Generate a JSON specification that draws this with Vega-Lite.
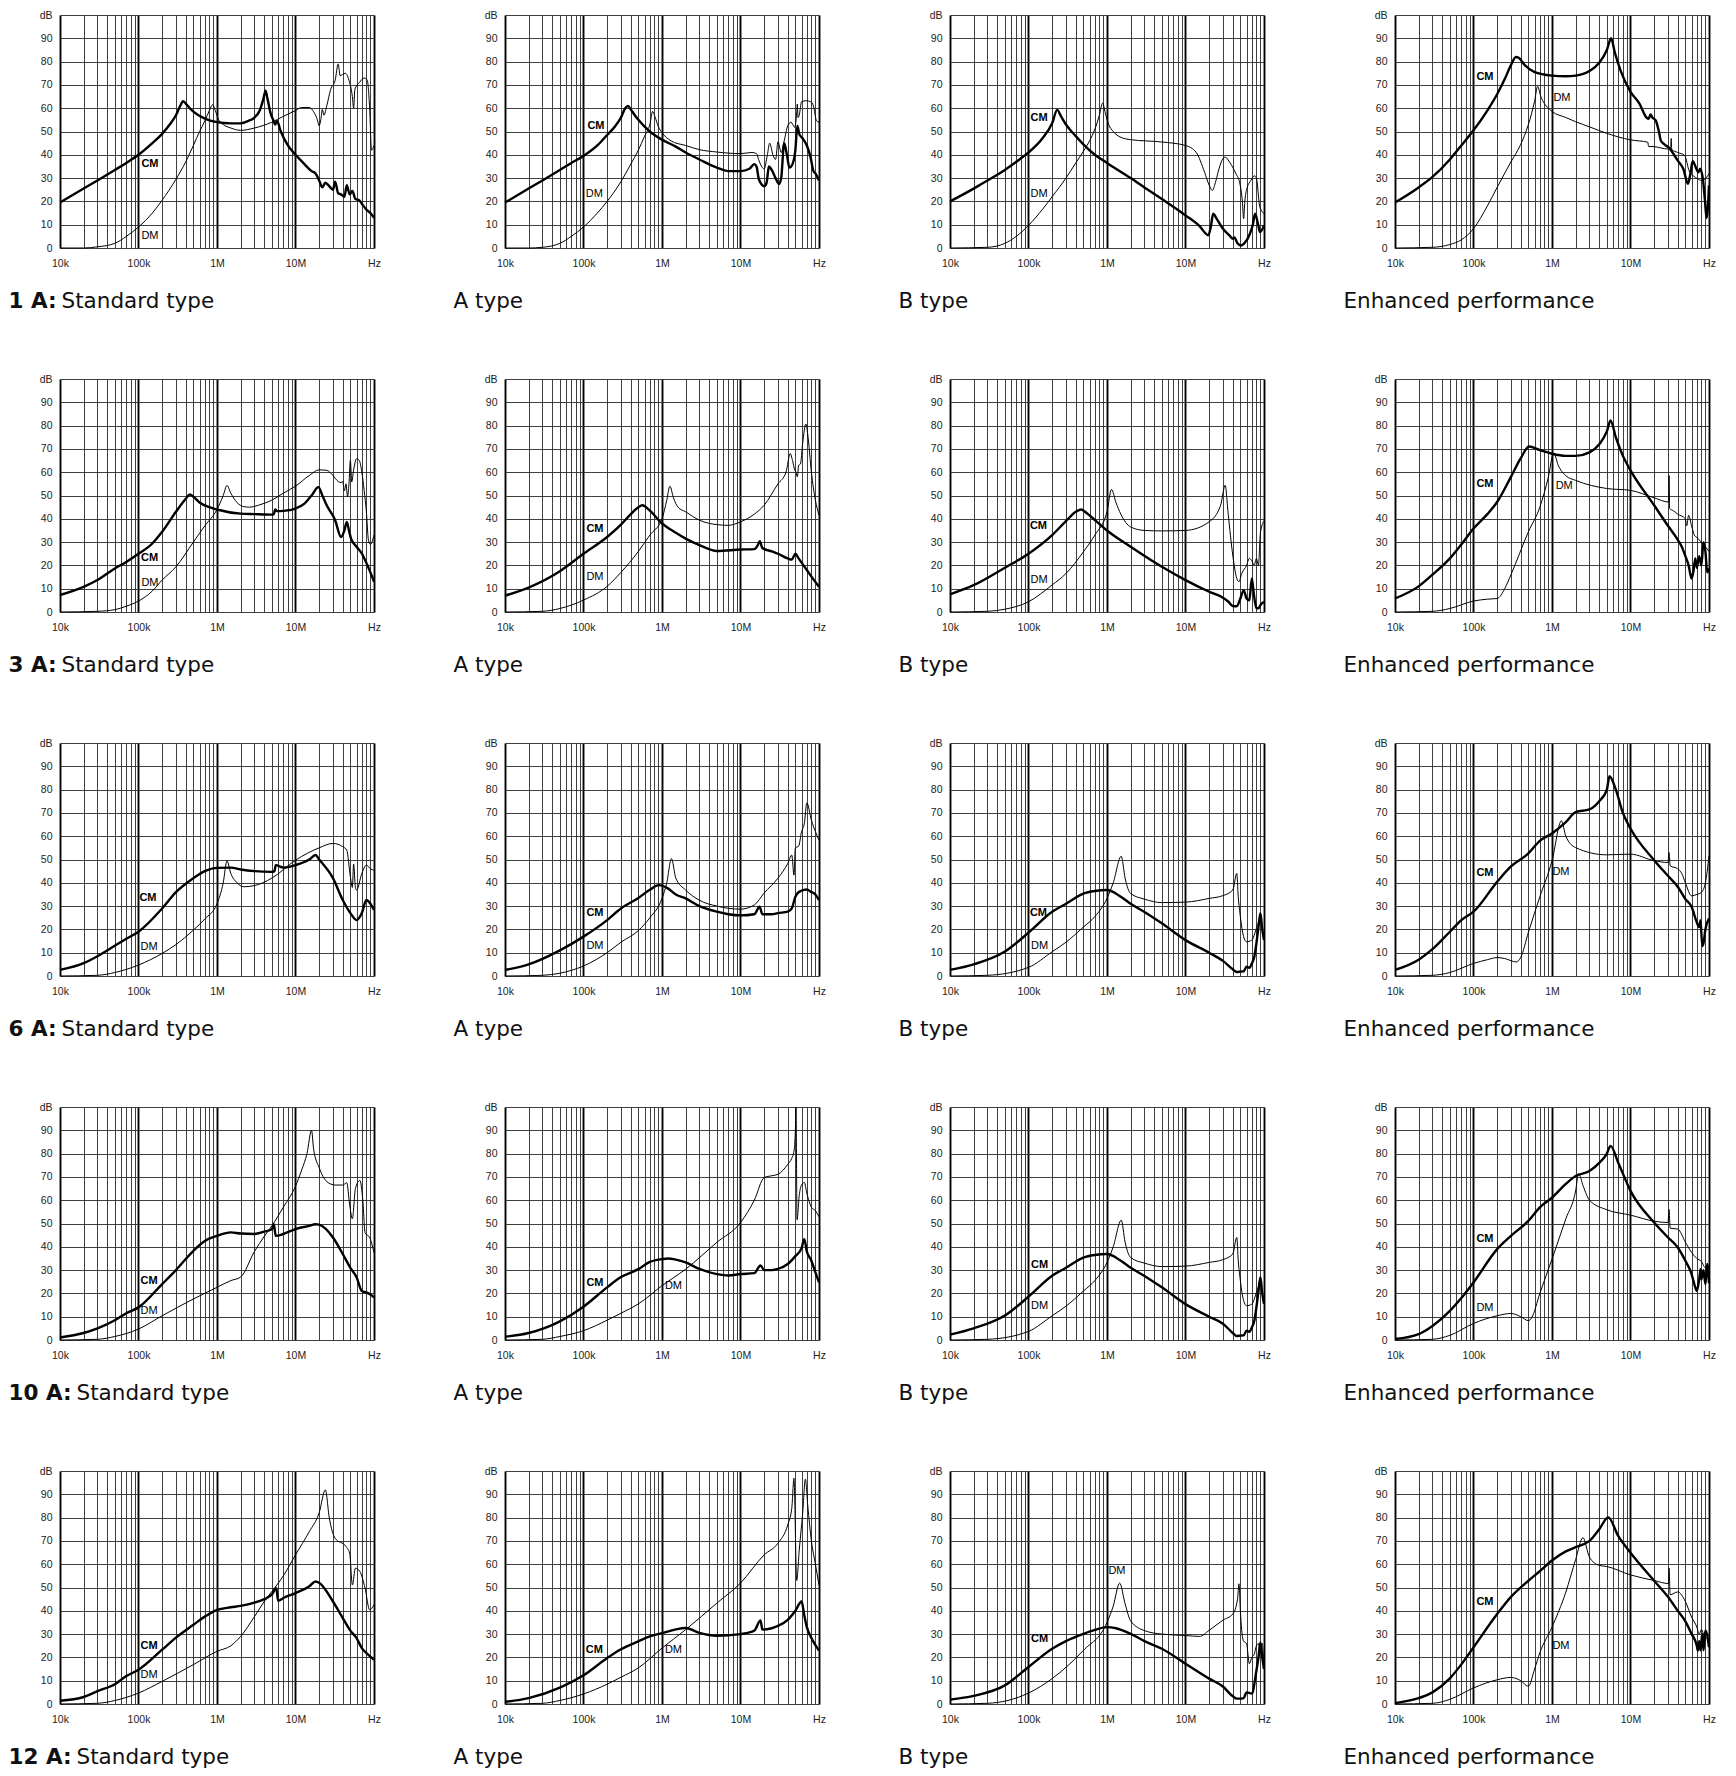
{
"$schema":"https://vega.github.io/schema/vega-lite/v6.json",
"background":"white",
"padding":{"left":8,"top":10,"right":5,"bottom":5},
"columns":4,"spacing":131,"bounds":"flush",
"config":{
 "view":{"stroke":null},
 "axis":{"ticks":false,"domain":false,"labelFont":"Liberation Sans","labelFontSize":10.5,"labelColor":"#222","labelFlush":false,"labelOverlap":false,"labelBound":false,"titleFont":"DejaVu Sans","titleFontSize":21.5,"titleFontWeight":"normal","titleColor":"#111","titleAlign":"left","titleBaseline":"alphabetic","titlePadding":0},
 "axisX":{"labelPadding":10,"labelAlign":"center"},
 "axisY":{"labelPadding":8,"gridColor":"#2a2a2a","gridWidth":0.9,"titleAngle":0},
 "line":{"color":"#000","strokeJoin":"round","clip":true,"interpolate":"monotone"},
 "text":{"font":"Liberation Sans","fontSize":11,"color":"#000"}
},
"datasets":{
"p1":[{"s":"C","f":1e4,"d":19.5},{"s":"C","f":2e4,"d":25.5},{"s":"C","f":3e4,"d":29},{"s":"C","f":5e4,"d":33.5},{"s":"C","f":7e4,"d":36.5},{"s":"C","f":1e5,"d":40},{"s":"C","f":1.5e5,"d":45},{"s":"C","f":2e5,"d":49},{"s":"C","f":2.5e5,"d":53},{"s":"C","f":3e5,"d":57},{"s":"C","f":3.4e5,"d":61},{"s":"C","f":3.7e5,"d":63},{"s":"C","f":4e5,"d":62},{"s":"C","f":4.5e5,"d":60},{"s":"C","f":5e5,"d":58.5},{"s":"C","f":7e5,"d":55.5},{"s":"C","f":1e6,"d":54},{"s":"C","f":1.5e6,"d":53.5},{"s":"C","f":2e6,"d":53.5},{"s":"C","f":2.5e6,"d":54.5},{"s":"C","f":3e6,"d":56},{"s":"C","f":3.5e6,"d":59},{"s":"C","f":3.9e6,"d":64},{"s":"C","f":4.15e6,"d":67.5},{"s":"C","f":4.4e6,"d":64},{"s":"C","f":4.8e6,"d":58},{"s":"C","f":5.2e6,"d":55},{"s":"C","f":5.5e6,"d":53},{"s":"C","f":5.8e6,"d":54.5},{"s":"C","f":6.5e6,"d":50},{"s":"C","f":8e6,"d":44},{"s":"C","f":1e7,"d":40},{"s":"C","f":1.3e7,"d":36},{"s":"C","f":1.6e7,"d":33},{"s":"C","f":1.8e7,"d":32},{"s":"C","f":2e7,"d":29},{"s":"C","f":2.2e7,"d":26},{"s":"C","f":2.4e7,"d":28},{"s":"C","f":2.7e7,"d":26.5},{"s":"C","f":3e7,"d":25},{"s":"C","f":3.2e7,"d":28.5},{"s":"C","f":3.5e7,"d":23.5},{"s":"C","f":3.8e7,"d":23},{"s":"C","f":4.2e7,"d":22},{"s":"C","f":4.5e7,"d":27},{"s":"C","f":4.9e7,"d":23},{"s":"C","f":5.3e7,"d":24.5},{"s":"C","f":5.8e7,"d":21},{"s":"C","f":6.5e7,"d":20.5},{"s":"C","f":7e7,"d":19},{"s":"C","f":8e7,"d":16.5},{"s":"C","f":9e7,"d":15},{"s":"C","f":1e8,"d":13},
{"s":"D","f":1e4,"d":0},{"s":"D","f":2e4,"d":0},{"s":"D","f":3e4,"d":0.5},{"s":"D","f":5e4,"d":2},{"s":"D","f":7e4,"d":5},{"s":"D","f":1e5,"d":9},{"s":"D","f":1.5e5,"d":15},{"s":"D","f":2e5,"d":20.5},{"s":"D","f":3e5,"d":29.5},{"s":"D","f":4e5,"d":37},{"s":"D","f":5e5,"d":44},{"s":"D","f":6e5,"d":50},{"s":"D","f":7e5,"d":54.5},{"s":"D","f":8e5,"d":59},{"s":"D","f":8.8e5,"d":61.5},{"s":"D","f":9.5e5,"d":59},{"s":"D","f":1.05e6,"d":55},{"s":"D","f":1.2e6,"d":53},{"s":"D","f":1.5e6,"d":51.5},{"s":"D","f":2e6,"d":50.5},{"s":"D","f":3e6,"d":51.5},{"s":"D","f":5e6,"d":54},{"s":"D","f":7e6,"d":56.5},{"s":"D","f":1e7,"d":59},{"s":"D","f":1.2e7,"d":60.3},{"s":"D","f":1.5e7,"d":60.3},{"s":"D","f":1.7e7,"d":58.5},{"s":"D","f":1.9e7,"d":55},{"s":"D","f":2e7,"d":52.5},{"s":"D","f":2.1e7,"d":55},{"s":"D","f":2.2e7,"d":59.5},{"s":"D","f":2.3e7,"d":57},{"s":"D","f":2.5e7,"d":61},{"s":"D","f":2.8e7,"d":68},{"s":"D","f":3.2e7,"d":72},{"s":"D","f":3.5e7,"d":79},{"s":"D","f":3.7e7,"d":74},{"s":"D","f":4.3e7,"d":75},{"s":"D","f":4.8e7,"d":72},{"s":"D","f":5.3e7,"d":65},{"s":"D","f":5.5e7,"d":60},{"s":"D","f":5.7e7,"d":68},{"s":"D","f":6.5e7,"d":71},{"s":"D","f":7.5e7,"d":73},{"s":"D","f":8.2e7,"d":72},{"s":"D","f":8.8e7,"d":60},{"s":"D","f":9.3e7,"d":42},{"s":"D","f":1e8,"d":44},
{"s":"CL","f":1.4e5,"d":36},{"s":"DL","f":1.4e5,"d":5}],
"p2":[{"s":"C","f":1e4,"d":19.5},{"s":"C","f":2e4,"d":25.5},{"s":"C","f":3e4,"d":29},{"s":"C","f":5e4,"d":33.5},{"s":"C","f":7e4,"d":36.5},{"s":"C","f":1e5,"d":39.5},{"s":"C","f":1.5e5,"d":44},{"s":"C","f":2e5,"d":48.5},{"s":"C","f":2.5e5,"d":52},{"s":"C","f":3e5,"d":56},{"s":"C","f":3.4e5,"d":60},{"s":"C","f":3.7e5,"d":61},{"s":"C","f":4e5,"d":59.5},{"s":"C","f":4.5e5,"d":57},{"s":"C","f":5e5,"d":55},{"s":"C","f":7e5,"d":50},{"s":"C","f":1e6,"d":46.5},{"s":"C","f":1.5e6,"d":43.5},{"s":"C","f":2e6,"d":41},{"s":"C","f":3e6,"d":38},{"s":"C","f":5e6,"d":34.5},{"s":"C","f":7e6,"d":33},{"s":"C","f":1e7,"d":33},{"s":"C","f":1.3e7,"d":34},{"s":"C","f":1.5e7,"d":36},{"s":"C","f":1.6e7,"d":35},{"s":"C","f":1.7e7,"d":30},{"s":"C","f":1.8e7,"d":28},{"s":"C","f":2e7,"d":26.5},{"s":"C","f":2.15e7,"d":28},{"s":"C","f":2.3e7,"d":35},{"s":"C","f":2.5e7,"d":33.5},{"s":"C","f":2.8e7,"d":30},{"s":"C","f":3.1e7,"d":27.5},{"s":"C","f":3.3e7,"d":30},{"s":"C","f":3.6e7,"d":45},{"s":"C","f":3.9e7,"d":40},{"s":"C","f":4.2e7,"d":34.5},{"s":"C","f":4.6e7,"d":36},{"s":"C","f":5e7,"d":42},{"s":"C","f":5.3e7,"d":52.5},{"s":"C","f":5.6e7,"d":49},{"s":"C","f":6.2e7,"d":47},{"s":"C","f":7e7,"d":44},{"s":"C","f":7.8e7,"d":39},{"s":"C","f":8.5e7,"d":33},{"s":"C","f":9e7,"d":32},{"s":"C","f":1e8,"d":29},
{"s":"D","f":1e4,"d":0},{"s":"D","f":2e4,"d":0},{"s":"D","f":3e4,"d":0.3},{"s":"D","f":5e4,"d":2},{"s":"D","f":7e4,"d":5},{"s":"D","f":1e5,"d":9},{"s":"D","f":1.5e5,"d":15},{"s":"D","f":2e5,"d":20},{"s":"D","f":3e5,"d":28.5},{"s":"D","f":4e5,"d":36},{"s":"D","f":5e5,"d":42},{"s":"D","f":6e5,"d":48},{"s":"D","f":7e5,"d":53},{"s":"D","f":7.6e5,"d":58.6},{"s":"D","f":8.2e5,"d":56},{"s":"D","f":9e5,"d":52},{"s":"D","f":1e6,"d":49.5},{"s":"D","f":1.3e6,"d":46},{"s":"D","f":2e6,"d":44},{"s":"D","f":3e6,"d":42.2},{"s":"D","f":5e6,"d":41.2},{"s":"D","f":1e7,"d":40.5},{"s":"D","f":1.4e7,"d":41},{"s":"D","f":1.6e7,"d":40.5},{"s":"D","f":1.7e7,"d":38},{"s":"D","f":1.9e7,"d":34.5},{"s":"D","f":2e7,"d":34},{"s":"D","f":2.2e7,"d":40},{"s":"D","f":2.35e7,"d":45},{"s":"D","f":2.6e7,"d":39.7},{"s":"D","f":2.8e7,"d":38},{"s":"D","f":3e7,"d":45.6},{"s":"D","f":3.3e7,"d":41},{"s":"D","f":3.6e7,"d":46},{"s":"D","f":4e7,"d":52.5},{"s":"D","f":4.4e7,"d":54},{"s":"D","f":4.9e7,"d":51.8},{"s":"D","f":5.2e7,"d":58},{"s":"D","f":5.3e7,"d":61.8},{"s":"D","f":5.4e7,"d":56},{"s":"D","f":5.6e7,"d":57},{"s":"D","f":6e7,"d":62.8},{"s":"D","f":6.9e7,"d":63.2},{"s":"D","f":7.8e7,"d":62.8},{"s":"D","f":8.5e7,"d":61},{"s":"D","f":9.3e7,"d":54.6},{"s":"D","f":1e8,"d":54},
{"s":"CL","f":1.44e5,"d":52.5},{"s":"DL","f":1.37e5,"d":23.3}],
"p3":[{"s":"C","f":1e4,"d":20},{"s":"C","f":2e4,"d":25.5},{"s":"C","f":3e4,"d":29},{"s":"C","f":5e4,"d":33.5},{"s":"C","f":7e4,"d":37},{"s":"C","f":1e5,"d":41},{"s":"C","f":1.5e5,"d":47},{"s":"C","f":2e5,"d":53.5},{"s":"C","f":2.32e5,"d":59.3},{"s":"C","f":2.6e5,"d":56.5},{"s":"C","f":3e5,"d":53},{"s":"C","f":4e5,"d":48},{"s":"C","f":5e5,"d":44.5},{"s":"C","f":7e5,"d":40},{"s":"C","f":1e6,"d":36.5},{"s":"C","f":2e6,"d":30},{"s":"C","f":3e6,"d":26},{"s":"C","f":5e6,"d":21},{"s":"C","f":1e7,"d":14},{"s":"C","f":1.5e7,"d":9.5},{"s":"C","f":1.95e7,"d":5.5},{"s":"C","f":2.1e7,"d":9},{"s":"C","f":2.25e7,"d":14.7},{"s":"C","f":2.5e7,"d":12.5},{"s":"C","f":3e7,"d":8.3},{"s":"C","f":3.6e7,"d":5.5},{"s":"C","f":4e7,"d":4},{"s":"C","f":4.2e7,"d":4.5},{"s":"C","f":4.6e7,"d":2},{"s":"C","f":5.1e7,"d":1.1},{"s":"C","f":5.6e7,"d":2},{"s":"C","f":6.6e7,"d":6},{"s":"C","f":7.2e7,"d":10},{"s":"C","f":7.7e7,"d":14.7},{"s":"C","f":8.3e7,"d":11},{"s":"C","f":8.9e7,"d":6.8},{"s":"C","f":1e8,"d":9.7},
{"s":"D","f":1e4,"d":0},{"s":"D","f":3e4,"d":0.3},{"s":"D","f":5e4,"d":2},{"s":"D","f":7e4,"d":5},{"s":"D","f":1e5,"d":9.7},{"s":"D","f":1.5e5,"d":16.5},{"s":"D","f":2e5,"d":22},{"s":"D","f":3e5,"d":30},{"s":"D","f":4e5,"d":36.5},{"s":"D","f":5e5,"d":41.5},{"s":"D","f":6e5,"d":46},{"s":"D","f":7e5,"d":51},{"s":"D","f":8e5,"d":57},{"s":"D","f":8.8e5,"d":62.2},{"s":"D","f":9.5e5,"d":58},{"s":"D","f":1.05e6,"d":53},{"s":"D","f":1.2e6,"d":50},{"s":"D","f":1.5e6,"d":47.5},{"s":"D","f":2e6,"d":46.5},{"s":"D","f":5e6,"d":45.5},{"s":"D","f":1e7,"d":44},{"s":"D","f":1.37e7,"d":41},{"s":"D","f":1.75e7,"d":32.5},{"s":"D","f":2e7,"d":27},{"s":"D","f":2.2e7,"d":24.7},{"s":"D","f":2.4e7,"d":28},{"s":"D","f":2.6e7,"d":32.5},{"s":"D","f":2.9e7,"d":37.5},{"s":"D","f":3.2e7,"d":39},{"s":"D","f":3.7e7,"d":36.5},{"s":"D","f":4.4e7,"d":31.8},{"s":"D","f":4.9e7,"d":28},{"s":"D","f":5.3e7,"d":20},{"s":"D","f":5.5e7,"d":12.6},{"s":"D","f":5.7e7,"d":20},{"s":"D","f":6e7,"d":25},{"s":"D","f":6.8e7,"d":29},{"s":"D","f":7.6e7,"d":31},{"s":"D","f":8e7,"d":30},{"s":"D","f":8.8e7,"d":18},{"s":"D","f":9.3e7,"d":16},{"s":"D","f":1e8,"d":14.7},
{"s":"CL","f":1.36e5,"d":55.6},{"s":"DL","f":1.36e5,"d":23.3}],
"p4":[{"s":"C","f":1e4,"d":19.5},{"s":"C","f":2e4,"d":26},{"s":"C","f":3e4,"d":30.5},{"s":"C","f":5e4,"d":38},{"s":"C","f":7e4,"d":44},{"s":"C","f":1e5,"d":50.5},{"s":"C","f":1.5e5,"d":59},{"s":"C","f":2e5,"d":66},{"s":"C","f":2.5e5,"d":72.5},{"s":"C","f":3e5,"d":78.5},{"s":"C","f":3.47e5,"d":82},{"s":"C","f":3.8e5,"d":81.5},{"s":"C","f":4.5e5,"d":78.5},{"s":"C","f":6e5,"d":75.5},{"s":"C","f":1e6,"d":74},{"s":"C","f":1.5e6,"d":73.7},{"s":"C","f":2e6,"d":74},{"s":"C","f":3e6,"d":76},{"s":"C","f":4e6,"d":79.5},{"s":"C","f":5e6,"d":85},{"s":"C","f":5.66e6,"d":90},{"s":"C","f":6.3e6,"d":84},{"s":"C","f":7.5e6,"d":76},{"s":"C","f":1e7,"d":67},{"s":"C","f":1.3e7,"d":62},{"s":"C","f":1.6e7,"d":56},{"s":"C","f":1.7e7,"d":55.4},{"s":"C","f":1.8e7,"d":57.3},{"s":"C","f":1.9e7,"d":56},{"s":"C","f":2.1e7,"d":54.7},{"s":"C","f":2.3e7,"d":50},{"s":"C","f":2.44e7,"d":46},{"s":"C","f":2.7e7,"d":44.5},{"s":"C","f":3.1e7,"d":43},{"s":"C","f":4e7,"d":37.5},{"s":"C","f":4.7e7,"d":34},{"s":"C","f":5.4e7,"d":27.6},{"s":"C","f":5.8e7,"d":32},{"s":"C","f":6.2e7,"d":37.3},{"s":"C","f":6.9e7,"d":34},{"s":"C","f":7.3e7,"d":32.5},{"s":"C","f":7.7e7,"d":34},{"s":"C","f":8.4e7,"d":29},{"s":"C","f":8.9e7,"d":20},{"s":"C","f":9.3e7,"d":12.9},{"s":"C","f":9.6e7,"d":16},{"s":"C","f":1e8,"d":26.9},
{"s":"D","f":1e4,"d":0},{"s":"D","f":3e4,"d":0.3},{"s":"D","f":5e4,"d":1.5},{"s":"D","f":7e4,"d":3.5},{"s":"D","f":1e5,"d":8.3},{"s":"D","f":1.5e5,"d":18},{"s":"D","f":2e5,"d":26},{"s":"D","f":3e5,"d":37},{"s":"D","f":4e5,"d":44.5},{"s":"D","f":5e5,"d":53},{"s":"D","f":6e5,"d":63},{"s":"D","f":6.56e5,"d":69.4},{"s":"D","f":7.2e5,"d":65},{"s":"D","f":8e5,"d":62},{"s":"D","f":9e5,"d":60},{"s":"D","f":1e6,"d":58.6},{"s":"D","f":1.5e6,"d":56},{"s":"D","f":2e6,"d":54.2},{"s":"D","f":3e6,"d":52},{"s":"D","f":5e6,"d":49.2},{"s":"D","f":1e7,"d":46.4},{"s":"D","f":1.66e7,"d":45.4},{"s":"D","f":1.7e7,"d":43.6},{"s":"D","f":2e7,"d":43.5},{"s":"D","f":3e7,"d":42.5},{"s":"D","f":3.25e7,"d":43},{"s":"D","f":3.3e7,"d":47},{"s":"D","f":3.35e7,"d":42.3},{"s":"D","f":4e7,"d":41},{"s":"D","f":4.9e7,"d":39.7},{"s":"D","f":5.6e7,"d":33},{"s":"D","f":6.3e7,"d":31},{"s":"D","f":7.2e7,"d":29.7},{"s":"D","f":8e7,"d":29},{"s":"D","f":8.8e7,"d":29.5},{"s":"D","f":1e8,"d":31.9},
{"s":"CL","f":1.4e5,"d":73.6},{"s":"DL","f":1.34e6,"d":64.3}],
"p5":[{"s":"C","f":1e4,"d":7.3},{"s":"C","f":2e4,"d":10.8},{"s":"C","f":3e4,"d":13.7},{"s":"C","f":5e4,"d":18.7},{"s":"C","f":7e4,"d":21.5},{"s":"C","f":1e5,"d":25},{"s":"C","f":1.5e5,"d":29.4},{"s":"C","f":2e5,"d":34.4},{"s":"C","f":3e5,"d":43},{"s":"C","f":4e5,"d":48.6},{"s":"C","f":4.5e5,"d":50.4},{"s":"C","f":5e5,"d":49.5},{"s":"C","f":6e5,"d":47},{"s":"C","f":8e5,"d":45},{"s":"C","f":1e6,"d":44},{"s":"C","f":2e6,"d":42.2},{"s":"C","f":3e6,"d":42},{"s":"C","f":5e6,"d":41.8},{"s":"C","f":5.3e6,"d":42},{"s":"C","f":5.5e6,"d":44},{"s":"C","f":5.8e6,"d":43.3},{"s":"C","f":7e6,"d":43.4},{"s":"C","f":1e7,"d":44.4},{"s":"C","f":1.3e7,"d":46.5},{"s":"C","f":1.6e7,"d":50},{"s":"C","f":1.96e7,"d":53.6},{"s":"C","f":2.2e7,"d":50},{"s":"C","f":2.5e7,"d":45.8},{"s":"C","f":3.2e7,"d":39.4},{"s":"C","f":3.8e7,"d":32.2},{"s":"C","f":4.2e7,"d":35},{"s":"C","f":4.5e7,"d":38.7},{"s":"C","f":4.8e7,"d":35},{"s":"C","f":5.1e7,"d":31.5},{"s":"C","f":6e7,"d":28},{"s":"C","f":7e7,"d":25.1},{"s":"C","f":8e7,"d":21},{"s":"C","f":9e7,"d":17},{"s":"C","f":1e8,"d":13},
{"s":"D","f":1e4,"d":0},{"s":"D","f":3e4,"d":0.3},{"s":"D","f":5e4,"d":1},{"s":"D","f":7e4,"d":2.5},{"s":"D","f":1e5,"d":4.7},{"s":"D","f":1.5e5,"d":9},{"s":"D","f":2e5,"d":13.7},{"s":"D","f":3e5,"d":19.4},{"s":"D","f":5e5,"d":30},{"s":"D","f":7e5,"d":37},{"s":"D","f":1e6,"d":44},{"s":"D","f":1.2e6,"d":50},{"s":"D","f":1.34e6,"d":54.3},{"s":"D","f":1.5e6,"d":51},{"s":"D","f":1.8e6,"d":47},{"s":"D","f":2.2e6,"d":45.2},{"s":"D","f":2.6e6,"d":45},{"s":"D","f":3.5e6,"d":46},{"s":"D","f":5e6,"d":48},{"s":"D","f":7e6,"d":51},{"s":"D","f":1e7,"d":54},{"s":"D","f":1.5e7,"d":58.6},{"s":"D","f":2e7,"d":61},{"s":"D","f":2.5e7,"d":60.8},{"s":"D","f":3e7,"d":58.6},{"s":"D","f":3.5e7,"d":56},{"s":"D","f":3.8e7,"d":55.5},{"s":"D","f":4e7,"d":56},{"s":"D","f":4.2e7,"d":52},{"s":"D","f":4.4e7,"d":55},{"s":"D","f":4.6e7,"d":49.4},{"s":"D","f":4.8e7,"d":55},{"s":"D","f":5e7,"d":65},{"s":"D","f":5.2e7,"d":55.8},{"s":"D","f":5.5e7,"d":61},{"s":"D","f":6e7,"d":65.8},{"s":"D","f":6.5e7,"d":65},{"s":"D","f":7e7,"d":60},{"s":"D","f":7.5e7,"d":52},{"s":"D","f":8e7,"d":43},{"s":"D","f":8.5e7,"d":30.8},{"s":"D","f":9e7,"d":29},{"s":"D","f":1e8,"d":33},
{"s":"CL","f":1.38e5,"d":23},{"s":"DL","f":1.4e5,"d":12.3}],
"p6":[{"s":"C","f":1e4,"d":7},{"s":"C","f":2e4,"d":10.5},{"s":"C","f":5e4,"d":17.5},{"s":"C","f":1e5,"d":25},{"s":"C","f":2e5,"d":32.2},{"s":"C","f":3e5,"d":37.5},{"s":"C","f":4e5,"d":42},{"s":"C","f":5e5,"d":45},{"s":"C","f":5.6e5,"d":45.8},{"s":"C","f":7e5,"d":43.5},{"s":"C","f":1e6,"d":38},{"s":"C","f":1.5e6,"d":34},{"s":"C","f":2e6,"d":31.5},{"s":"C","f":3e6,"d":28.7},{"s":"C","f":5e6,"d":26.2},{"s":"C","f":1e7,"d":26.8},{"s":"C","f":1.5e7,"d":27},{"s":"C","f":1.65e7,"d":28.5},{"s":"C","f":1.76e7,"d":30.4},{"s":"C","f":1.9e7,"d":27.5},{"s":"C","f":2.5e7,"d":26},{"s":"C","f":3e7,"d":25},{"s":"C","f":4e7,"d":23},{"s":"C","f":4.5e7,"d":22.5},{"s":"C","f":5e7,"d":25},{"s":"C","f":5.5e7,"d":23},{"s":"C","f":7e7,"d":18},{"s":"C","f":8.5e7,"d":14},{"s":"C","f":1e8,"d":10.8},
{"s":"D","f":1e4,"d":0},{"s":"D","f":3e4,"d":0.3},{"s":"D","f":5e4,"d":1.5},{"s":"D","f":1e5,"d":5.1},{"s":"D","f":2e5,"d":11},{"s":"D","f":3e5,"d":17},{"s":"D","f":5e5,"d":26},{"s":"D","f":7e5,"d":33},{"s":"D","f":1e6,"d":40},{"s":"D","f":1.15e6,"d":48},{"s":"D","f":1.26e6,"d":54},{"s":"D","f":1.4e6,"d":49},{"s":"D","f":1.6e6,"d":45},{"s":"D","f":2e6,"d":43},{"s":"D","f":3e6,"d":39.4},{"s":"D","f":5e6,"d":37.5},{"s":"D","f":7e6,"d":37.2},{"s":"D","f":1e7,"d":38.7},{"s":"D","f":1.5e7,"d":42},{"s":"D","f":2e7,"d":45.8},{"s":"D","f":3e7,"d":55},{"s":"D","f":3.8e7,"d":60},{"s":"D","f":4.3e7,"d":68},{"s":"D","f":4.6e7,"d":65},{"s":"D","f":4.9e7,"d":61},{"s":"D","f":5.1e7,"d":60},{"s":"D","f":5.3e7,"d":58},{"s":"D","f":5.5e7,"d":63},{"s":"D","f":5.8e7,"d":63.5},{"s":"D","f":6.2e7,"d":72.6},{"s":"D","f":6.8e7,"d":80.7},{"s":"D","f":7.2e7,"d":76},{"s":"D","f":8e7,"d":60},{"s":"D","f":9e7,"d":48},{"s":"D","f":1e8,"d":41.5},
{"s":"CL","f":1.4e5,"d":35.8},{"s":"DL","f":1.4e5,"d":15.1}],
"p7":[{"s":"C","f":1e4,"d":7.6},{"s":"C","f":2e4,"d":11.5},{"s":"C","f":5e4,"d":19},{"s":"C","f":1e5,"d":25},{"s":"C","f":2e5,"d":33},{"s":"C","f":3e5,"d":39},{"s":"C","f":4e5,"d":43},{"s":"C","f":4.67e5,"d":44},{"s":"C","f":5.5e5,"d":42.5},{"s":"C","f":7e5,"d":39.5},{"s":"C","f":1e6,"d":35},{"s":"C","f":2e6,"d":28},{"s":"C","f":5e6,"d":19.4},{"s":"C","f":1e7,"d":13.7},{"s":"C","f":2e7,"d":8.7},{"s":"C","f":3e7,"d":6.1},{"s":"C","f":3.5e7,"d":4.5},{"s":"C","f":4e7,"d":2.6},{"s":"C","f":4.5e7,"d":2.5},{"s":"C","f":5e7,"d":5.8},{"s":"C","f":5.5e7,"d":9.4},{"s":"C","f":6e7,"d":5.8},{"s":"C","f":6.5e7,"d":5},{"s":"C","f":7e7,"d":14.4},{"s":"C","f":7.4e7,"d":8},{"s":"C","f":8e7,"d":1.6},{"s":"C","f":8.5e7,"d":1.6},{"s":"C","f":9e7,"d":3},{"s":"C","f":1e8,"d":4.4},
{"s":"D","f":1e4,"d":0},{"s":"D","f":3e4,"d":0.3},{"s":"D","f":5e4,"d":1.2},{"s":"D","f":1e5,"d":4.4},{"s":"D","f":2e5,"d":11.6},{"s":"D","f":3e5,"d":16.5},{"s":"D","f":5e5,"d":25.8},{"s":"D","f":7e5,"d":33},{"s":"D","f":1e6,"d":43},{"s":"D","f":1.14e6,"d":52.6},{"s":"D","f":1.3e6,"d":47},{"s":"D","f":1.5e6,"d":42},{"s":"D","f":2e6,"d":36.5},{"s":"D","f":3e6,"d":35},{"s":"D","f":5e6,"d":34.8},{"s":"D","f":1e7,"d":35},{"s":"D","f":2e7,"d":38.7},{"s":"D","f":2.8e7,"d":45.8},{"s":"D","f":3.2e7,"d":54.4},{"s":"D","f":3.5e7,"d":42},{"s":"D","f":4e7,"d":24.4},{"s":"D","f":4.5e7,"d":14.4},{"s":"D","f":4.8e7,"d":13},{"s":"D","f":5.2e7,"d":16.5},{"s":"D","f":6e7,"d":20},{"s":"D","f":6.5e7,"d":23},{"s":"D","f":7e7,"d":22},{"s":"D","f":7.5e7,"d":20},{"s":"D","f":8e7,"d":23},{"s":"D","f":8.5e7,"d":20},{"s":"D","f":9e7,"d":34},{"s":"D","f":1e8,"d":39},
{"s":"CL","f":1.34e5,"d":36.8},{"s":"DL","f":1.36e5,"d":13.7}],
"p8":[{"s":"C","f":1e4,"d":5.8},{"s":"C","f":2e4,"d":11},{"s":"C","f":3e4,"d":16},{"s":"C","f":5e4,"d":23},{"s":"C","f":7e4,"d":29},{"s":"C","f":1e5,"d":35.8},{"s":"C","f":1.5e5,"d":42},{"s":"C","f":2e5,"d":47.2},{"s":"C","f":3e5,"d":58},{"s":"C","f":4e5,"d":66},{"s":"C","f":5.1e5,"d":71},{"s":"C","f":7e5,"d":69.5},{"s":"C","f":1e6,"d":67.9},{"s":"C","f":1.5e6,"d":67},{"s":"C","f":2e6,"d":67},{"s":"C","f":3e6,"d":68.5},{"s":"C","f":4e6,"d":72},{"s":"C","f":5e6,"d":77.5},{"s":"C","f":5.57e6,"d":82.2},{"s":"C","f":6.5e6,"d":75},{"s":"C","f":8e6,"d":67},{"s":"C","f":1e7,"d":60.8},{"s":"C","f":2e7,"d":45.8},{"s":"C","f":3e7,"d":37},{"s":"C","f":4e7,"d":31},{"s":"C","f":4.5e7,"d":28},{"s":"C","f":5e7,"d":24},{"s":"C","f":5.5e7,"d":20},{"s":"C","f":6e7,"d":14.4},{"s":"C","f":6.3e7,"d":17},{"s":"C","f":6.7e7,"d":23},{"s":"C","f":7e7,"d":19},{"s":"C","f":7.5e7,"d":24},{"s":"C","f":8e7,"d":20},{"s":"C","f":8.5e7,"d":30},{"s":"C","f":9e7,"d":26},{"s":"C","f":9.5e7,"d":17},{"s":"C","f":1e8,"d":18.7},
{"s":"D","f":1e4,"d":0},{"s":"D","f":3e4,"d":0.3},{"s":"D","f":5e4,"d":1.5},{"s":"D","f":1e5,"d":4.7},{"s":"D","f":1.5e5,"d":5.5},{"s":"D","f":2e5,"d":5.8},{"s":"D","f":2.5e5,"d":10},{"s":"D","f":3e5,"d":16},{"s":"D","f":5e5,"d":34.4},{"s":"D","f":7e5,"d":45},{"s":"D","f":9e5,"d":58},{"s":"D","f":1.05e6,"d":68.3},{"s":"D","f":1.2e6,"d":63},{"s":"D","f":1.5e6,"d":58.5},{"s":"D","f":2e6,"d":56.5},{"s":"D","f":5e6,"d":53},{"s":"D","f":1e7,"d":52.2},{"s":"D","f":2e7,"d":49},{"s":"D","f":3.05e7,"d":47.2},{"s":"D","f":3.1e7,"d":58.6},{"s":"D","f":3.15e7,"d":44.4},{"s":"D","f":3.5e7,"d":43.5},{"s":"D","f":4e7,"d":42},{"s":"D","f":5e7,"d":40},{"s":"D","f":5.2e7,"d":37},{"s":"D","f":5.5e7,"d":41.5},{"s":"D","f":6e7,"d":37},{"s":"D","f":6.5e7,"d":33},{"s":"D","f":7e7,"d":32},{"s":"D","f":8e7,"d":30},{"s":"D","f":9e7,"d":28},{"s":"D","f":1e8,"d":26},
{"s":"CL","f":1.4e5,"d":55},{"s":"DL","f":1.43e6,"d":54}],
"p9":[{"s":"C","f":1e4,"d":2.6},{"s":"C","f":2e4,"d":5.5},{"s":"C","f":3e4,"d":8.5},{"s":"C","f":5e4,"d":13},{"s":"C","f":7e4,"d":16},{"s":"C","f":1e5,"d":19},{"s":"C","f":2e5,"d":29},{"s":"C","f":3e5,"d":36},{"s":"C","f":5e5,"d":42},{"s":"C","f":7e5,"d":45},{"s":"C","f":1e6,"d":46.4},{"s":"C","f":1.5e6,"d":46.5},{"s":"C","f":2e6,"d":45.7},{"s":"C","f":3e6,"d":45},{"s":"C","f":5e6,"d":44.7},{"s":"C","f":5.4e6,"d":45},{"s":"C","f":5.6e6,"d":47.6},{"s":"C","f":7e6,"d":46.5},{"s":"C","f":1e7,"d":47.6},{"s":"C","f":1.5e7,"d":50},{"s":"C","f":1.8e7,"d":51.9},{"s":"C","f":2e7,"d":50},{"s":"C","f":3e7,"d":42},{"s":"C","f":4e7,"d":32.6},{"s":"C","f":5e7,"d":27},{"s":"C","f":6e7,"d":24},{"s":"C","f":7e7,"d":27},{"s":"C","f":8e7,"d":32.6},{"s":"C","f":9e7,"d":31},{"s":"C","f":1e8,"d":28.3},
{"s":"D","f":1e4,"d":0},{"s":"D","f":3e4,"d":0.3},{"s":"D","f":5e4,"d":1.5},{"s":"D","f":1e5,"d":4.7},{"s":"D","f":2e5,"d":9.7},{"s":"D","f":3e5,"d":13.5},{"s":"D","f":5e5,"d":19.7},{"s":"D","f":7e5,"d":24.5},{"s":"D","f":1e6,"d":31},{"s":"D","f":1.2e6,"d":40},{"s":"D","f":1.34e6,"d":49.4},{"s":"D","f":1.5e6,"d":44},{"s":"D","f":1.8e6,"d":40},{"s":"D","f":2.2e6,"d":38.3},{"s":"D","f":3e6,"d":38.8},{"s":"D","f":5e6,"d":42},{"s":"D","f":1e7,"d":49.7},{"s":"D","f":2e7,"d":55},{"s":"D","f":3e7,"d":56.9},{"s":"D","f":4e7,"d":55.5},{"s":"D","f":4.5e7,"d":54},{"s":"D","f":5e7,"d":42.6},{"s":"D","f":5.3e7,"d":38},{"s":"D","f":5.5e7,"d":48},{"s":"D","f":5.8e7,"d":38},{"s":"D","f":6e7,"d":36.9},{"s":"D","f":7e7,"d":44},{"s":"D","f":8e7,"d":47.6},{"s":"D","f":9e7,"d":46},{"s":"D","f":1e8,"d":45.4},
{"s":"CL","f":1.32e5,"d":33.3},{"s":"DL","f":1.36e5,"d":12.3}],
"p10":[{"s":"C","f":1e4,"d":2.6},{"s":"C","f":2e4,"d":5},{"s":"C","f":5e4,"d":11},{"s":"C","f":1e5,"d":16.9},{"s":"C","f":2e5,"d":24},{"s":"C","f":3e5,"d":29},{"s":"C","f":5e5,"d":33.5},{"s":"C","f":7e5,"d":37},{"s":"C","f":9.1e5,"d":39},{"s":"C","f":1.2e6,"d":37.5},{"s":"C","f":1.5e6,"d":35},{"s":"C","f":2e6,"d":33.3},{"s":"C","f":3e6,"d":30},{"s":"C","f":5e6,"d":27.6},{"s":"C","f":7e6,"d":26.5},{"s":"C","f":1e7,"d":26},{"s":"C","f":1.5e7,"d":26.5},{"s":"C","f":1.75e7,"d":29.7},{"s":"C","f":1.9e7,"d":26.5},{"s":"C","f":2.5e7,"d":26.5},{"s":"C","f":3e7,"d":27},{"s":"C","f":4e7,"d":27.6},{"s":"C","f":4.5e7,"d":29},{"s":"C","f":5e7,"d":34},{"s":"C","f":5.5e7,"d":36},{"s":"C","f":7e7,"d":37.1},{"s":"C","f":8e7,"d":36},{"s":"C","f":9e7,"d":35},{"s":"C","f":1e8,"d":32.6},
{"s":"D","f":1e4,"d":0},{"s":"D","f":3e4,"d":0.3},{"s":"D","f":5e4,"d":1.2},{"s":"D","f":1e5,"d":4.3},{"s":"D","f":2e5,"d":10},{"s":"D","f":3e5,"d":14.5},{"s":"D","f":5e5,"d":19.5},{"s":"D","f":7e5,"d":25},{"s":"D","f":1e6,"d":33.3},{"s":"D","f":1.15e6,"d":40},{"s":"D","f":1.32e6,"d":50.4},{"s":"D","f":1.5e6,"d":42},{"s":"D","f":2e6,"d":36.9},{"s":"D","f":3e6,"d":32.5},{"s":"D","f":5e6,"d":30},{"s":"D","f":1e7,"d":28.7},{"s":"D","f":1.5e7,"d":30.5},{"s":"D","f":2e7,"d":35.6},{"s":"D","f":3e7,"d":42},{"s":"D","f":4e7,"d":48.3},{"s":"D","f":4.5e7,"d":51.9},{"s":"D","f":4.8e7,"d":43.3},{"s":"D","f":5e7,"d":55},{"s":"D","f":5.5e7,"d":55.7},{"s":"D","f":6e7,"d":62},{"s":"D","f":6.5e7,"d":65.4},{"s":"D","f":7e7,"d":74.3},{"s":"D","f":8e7,"d":66.9},{"s":"D","f":9e7,"d":62},{"s":"D","f":1e8,"d":58.3},
{"s":"CL","f":1.4e5,"d":27.1},{"s":"DL","f":1.4e5,"d":12.9}],
"p11":[{"s":"C","f":1e4,"d":2.6},{"s":"C","f":2e4,"d":5},{"s":"C","f":5e4,"d":10.5},{"s":"C","f":1e5,"d":18.6},{"s":"C","f":2e5,"d":27.6},{"s":"C","f":3e5,"d":31},{"s":"C","f":5e5,"d":35.4},{"s":"C","f":7e5,"d":36.5},{"s":"C","f":1e6,"d":36.9},{"s":"C","f":1.5e6,"d":34},{"s":"C","f":2e6,"d":31},{"s":"C","f":3e6,"d":27.5},{"s":"C","f":5e6,"d":22.6},{"s":"C","f":1e7,"d":15.4},{"s":"C","f":2e7,"d":10},{"s":"C","f":3e7,"d":6.5},{"s":"C","f":4e7,"d":2.9},{"s":"C","f":4.5e7,"d":1.7},{"s":"C","f":5e7,"d":1.9},{"s":"C","f":5.5e7,"d":2},{"s":"C","f":6e7,"d":4},{"s":"C","f":6.5e7,"d":3.5},{"s":"C","f":7e7,"d":5.4},{"s":"C","f":7.5e7,"d":8},{"s":"C","f":8e7,"d":14},{"s":"C","f":8.5e7,"d":21},{"s":"C","f":9e7,"d":26.9},{"s":"C","f":9.5e7,"d":20},{"s":"C","f":1e8,"d":15.4},
{"s":"D","f":1e4,"d":0},{"s":"D","f":3e4,"d":0.3},{"s":"D","f":1e5,"d":3.7},{"s":"D","f":2e5,"d":10.4},{"s":"D","f":3e5,"d":14.5},{"s":"D","f":5e5,"d":21},{"s":"D","f":7e5,"d":25.5},{"s":"D","f":1e6,"d":33.3},{"s":"D","f":1.2e6,"d":40},{"s":"D","f":1.52e6,"d":51.4},{"s":"D","f":1.7e6,"d":42},{"s":"D","f":2e6,"d":35.4},{"s":"D","f":3e6,"d":33},{"s":"D","f":5e6,"d":31.5},{"s":"D","f":1e7,"d":31.7},{"s":"D","f":2e7,"d":33.3},{"s":"D","f":3e7,"d":34.5},{"s":"D","f":4e7,"d":36.9},{"s":"D","f":4.5e7,"d":44},{"s":"D","f":4.7e7,"d":34},{"s":"D","f":5e7,"d":25.4},{"s":"D","f":5.5e7,"d":16.9},{"s":"D","f":6e7,"d":14.7},{"s":"D","f":7e7,"d":15.4},{"s":"D","f":8e7,"d":20.4},{"s":"D","f":8.5e7,"d":23},{"s":"D","f":9e7,"d":26.1},{"s":"D","f":9.5e7,"d":20},{"s":"D","f":1e8,"d":15.4},
{"s":"CL","f":1.34e5,"d":27.1},{"s":"DL","f":1.38e5,"d":12.9}],
"p12":[{"s":"C","f":1e4,"d":2.6},{"s":"C","f":2e4,"d":7},{"s":"C","f":3e4,"d":11.5},{"s":"C","f":5e4,"d":19},{"s":"C","f":7e4,"d":24},{"s":"C","f":1e5,"d":27.6},{"s":"C","f":2e5,"d":40.4},{"s":"C","f":3e5,"d":47},{"s":"C","f":5e5,"d":52.6},{"s":"C","f":7e5,"d":58},{"s":"C","f":1e6,"d":61.2},{"s":"C","f":1.5e6,"d":66},{"s":"C","f":2e6,"d":70.3},{"s":"C","f":3e6,"d":71.5},{"s":"C","f":4e6,"d":75},{"s":"C","f":5e6,"d":80},{"s":"C","f":5.4e6,"d":85.7},{"s":"C","f":6.5e6,"d":80},{"s":"C","f":8e6,"d":70},{"s":"C","f":1e7,"d":63.3},{"s":"C","f":2e7,"d":49.7},{"s":"C","f":3e7,"d":43},{"s":"C","f":4e7,"d":38.3},{"s":"C","f":5e7,"d":33},{"s":"C","f":6e7,"d":29.7},{"s":"C","f":7e7,"d":23},{"s":"C","f":7.5e7,"d":21},{"s":"C","f":7.8e7,"d":24},{"s":"C","f":8.2e7,"d":12.9},{"s":"C","f":8.5e7,"d":14},{"s":"C","f":9e7,"d":20},{"s":"C","f":1e8,"d":24.7},
{"s":"D","f":1e4,"d":0},{"s":"D","f":3e4,"d":0.3},{"s":"D","f":5e4,"d":1.5},{"s":"D","f":1e5,"d":5.4},{"s":"D","f":1.5e5,"d":7},{"s":"D","f":2e5,"d":7.9},{"s":"D","f":2.5e5,"d":7.5},{"s":"D","f":3e5,"d":6.6},{"s":"D","f":3.5e5,"d":6},{"s":"D","f":4e5,"d":8},{"s":"D","f":5e5,"d":18.7},{"s":"D","f":7e5,"d":34},{"s":"D","f":1e6,"d":49.4},{"s":"D","f":1.32e6,"d":66.6},{"s":"D","f":1.5e6,"d":60},{"s":"D","f":2e6,"d":55.1},{"s":"D","f":5e6,"d":52},{"s":"D","f":1e7,"d":52.3},{"s":"D","f":2e7,"d":49.5},{"s":"D","f":3e7,"d":48.7},{"s":"D","f":3.1e7,"d":53},{"s":"D","f":3.2e7,"d":47.3},{"s":"D","f":4e7,"d":46},{"s":"D","f":4.5e7,"d":44},{"s":"D","f":5e7,"d":40},{"s":"D","f":6e7,"d":34.4},{"s":"D","f":7e7,"d":35},{"s":"D","f":8e7,"d":35.9},{"s":"D","f":9e7,"d":40},{"s":"D","f":1e8,"d":51.6},
{"s":"CL","f":1.4e5,"d":44.3},{"s":"DL","f":1.3e6,"d":44.7}],
"p13":[{"s":"C","f":1e4,"d":1.1},{"s":"C","f":2e4,"d":3},{"s":"C","f":3e4,"d":5},{"s":"C","f":5e4,"d":8.5},{"s":"C","f":7e4,"d":11.5},{"s":"C","f":1e5,"d":14},{"s":"C","f":2e5,"d":24},{"s":"C","f":3e5,"d":30},{"s":"C","f":5e5,"d":38.3},{"s":"C","f":7e5,"d":42.5},{"s":"C","f":1e6,"d":44.7},{"s":"C","f":1.5e6,"d":46.2},{"s":"C","f":2e6,"d":45.7},{"s":"C","f":3e6,"d":45.5},{"s":"C","f":4e6,"d":46.5},{"s":"C","f":5e6,"d":47.5},{"s":"C","f":5.3e6,"d":49.7},{"s":"C","f":5.6e6,"d":44.7},{"s":"C","f":7e6,"d":45.5},{"s":"C","f":1e7,"d":47.6},{"s":"C","f":1.5e7,"d":49},{"s":"C","f":1.8e7,"d":49.7},{"s":"C","f":2e7,"d":49.5},{"s":"C","f":3e7,"d":44},{"s":"C","f":4e7,"d":36.9},{"s":"C","f":5e7,"d":31},{"s":"C","f":6e7,"d":26.9},{"s":"C","f":7e7,"d":21},{"s":"C","f":8e7,"d":20.4},{"s":"C","f":9e7,"d":19.5},{"s":"C","f":1e8,"d":18.3},
{"s":"D","f":1e4,"d":0},{"s":"D","f":3e4,"d":0.3},{"s":"D","f":5e4,"d":1.5},{"s":"D","f":1e5,"d":4.7},{"s":"D","f":2e5,"d":10.4},{"s":"D","f":5e5,"d":17.6},{"s":"D","f":1e6,"d":22.6},{"s":"D","f":1.5e6,"d":25.5},{"s":"D","f":2e6,"d":27},{"s":"D","f":3e6,"d":38},{"s":"D","f":4e6,"d":44.5},{"s":"D","f":5e6,"d":49},{"s":"D","f":7e6,"d":57},{"s":"D","f":1e7,"d":66},{"s":"D","f":1.2e7,"d":73},{"s":"D","f":1.4e7,"d":80},{"s":"D","f":1.6e7,"d":90},{"s":"D","f":1.7e7,"d":82},{"s":"D","f":2e7,"d":74},{"s":"D","f":2.5e7,"d":68},{"s":"D","f":3.2e7,"d":66.5},{"s":"D","f":4e7,"d":66.5},{"s":"D","f":4.5e7,"d":67.5},{"s":"D","f":4.9e7,"d":58},{"s":"D","f":5.3e7,"d":52},{"s":"D","f":5.8e7,"d":65},{"s":"D","f":6.6e7,"d":68.5},{"s":"D","f":7.2e7,"d":60},{"s":"D","f":7.7e7,"d":46},{"s":"D","f":8.8e7,"d":44},{"s":"D","f":1e8,"d":37.5},
{"s":"CL","f":1.36e5,"d":25.4},{"s":"DL","f":1.36e5,"d":12.3}],
"p14":[{"s":"C","f":1e4,"d":1.4},{"s":"C","f":2e4,"d":3},{"s":"C","f":5e4,"d":8},{"s":"C","f":1e5,"d":14.3},{"s":"C","f":2e5,"d":22.6},{"s":"C","f":3e5,"d":27},{"s":"C","f":5e5,"d":30.4},{"s":"C","f":7e5,"d":33.5},{"s":"C","f":1e6,"d":34.7},{"s":"C","f":1.2e6,"d":35},{"s":"C","f":1.5e6,"d":34.5},{"s":"C","f":2e6,"d":33.3},{"s":"C","f":3e6,"d":30.5},{"s":"C","f":5e6,"d":28.3},{"s":"C","f":7e6,"d":27.7},{"s":"C","f":1e7,"d":28.3},{"s":"C","f":1.5e7,"d":28.7},{"s":"C","f":1.8e7,"d":32},{"s":"C","f":2e7,"d":30},{"s":"C","f":2.5e7,"d":30},{"s":"C","f":3e7,"d":30.5},{"s":"C","f":4e7,"d":32.6},{"s":"C","f":5e7,"d":36},{"s":"C","f":6e7,"d":39.4},{"s":"C","f":6.5e7,"d":43.3},{"s":"C","f":7e7,"d":38},{"s":"C","f":8e7,"d":34},{"s":"C","f":9e7,"d":29},{"s":"C","f":1e8,"d":24.7},
{"s":"D","f":1e4,"d":0},{"s":"D","f":3e4,"d":0.3},{"s":"D","f":5e4,"d":1.5},{"s":"D","f":1e5,"d":4},{"s":"D","f":2e5,"d":8.5},{"s":"D","f":3e5,"d":11.5},{"s":"D","f":5e5,"d":15.5},{"s":"D","f":1e6,"d":23.3},{"s":"D","f":2e6,"d":30.4},{"s":"D","f":5e6,"d":41.9},{"s":"D","f":1e7,"d":50.4},{"s":"D","f":1.5e7,"d":60},{"s":"D","f":2e7,"d":69.7},{"s":"D","f":2.5e7,"d":70.5},{"s":"D","f":3e7,"d":71.1},{"s":"D","f":4e7,"d":75.4},{"s":"D","f":4.5e7,"d":78},{"s":"D","f":4.8e7,"d":81},{"s":"D","f":5e7,"d":90},{"s":"D","f":5.1e7,"d":100},{"s":"D","f":5.25e7,"d":51.6},{"s":"D","f":5.6e7,"d":62},{"s":"D","f":6e7,"d":66.6},{"s":"D","f":6.5e7,"d":67.6},{"s":"D","f":7e7,"d":63},{"s":"D","f":8e7,"d":57},{"s":"D","f":9e7,"d":55.5},{"s":"D","f":1e8,"d":52.9},
{"s":"CL","f":1.4e5,"d":24.4},{"s":"DL","f":1.4e6,"d":23}],
"p15":[{"s":"C","f":1e4,"d":2.3},{"s":"C","f":2e4,"d":5},{"s":"C","f":5e4,"d":10.5},{"s":"C","f":1e5,"d":18.6},{"s":"C","f":2e5,"d":27.6},{"s":"C","f":3e5,"d":31},{"s":"C","f":5e5,"d":35.4},{"s":"C","f":7e5,"d":36.5},{"s":"C","f":1e6,"d":36.9},{"s":"C","f":1.5e6,"d":34},{"s":"C","f":2e6,"d":31},{"s":"C","f":3e6,"d":27.5},{"s":"C","f":5e6,"d":22.6},{"s":"C","f":1e7,"d":15.4},{"s":"C","f":2e7,"d":10},{"s":"C","f":3e7,"d":7},{"s":"C","f":4e7,"d":3},{"s":"C","f":4.5e7,"d":1.7},{"s":"C","f":5e7,"d":1.9},{"s":"C","f":5.5e7,"d":2},{"s":"C","f":6e7,"d":4},{"s":"C","f":6.5e7,"d":3.5},{"s":"C","f":7e7,"d":5.4},{"s":"C","f":7.5e7,"d":8},{"s":"C","f":8e7,"d":14},{"s":"C","f":8.5e7,"d":21},{"s":"C","f":9e7,"d":27},{"s":"C","f":9.5e7,"d":20},{"s":"C","f":1e8,"d":15.5},
{"s":"D","f":1e4,"d":0},{"s":"D","f":3e4,"d":0.3},{"s":"D","f":1e5,"d":3.7},{"s":"D","f":2e5,"d":10.4},{"s":"D","f":3e5,"d":14.5},{"s":"D","f":5e5,"d":21},{"s":"D","f":7e5,"d":25.5},{"s":"D","f":1e6,"d":33.3},{"s":"D","f":1.2e6,"d":40},{"s":"D","f":1.52e6,"d":51.4},{"s":"D","f":1.7e6,"d":42},{"s":"D","f":2e6,"d":35.4},{"s":"D","f":3e6,"d":33},{"s":"D","f":5e6,"d":31.5},{"s":"D","f":1e7,"d":31.7},{"s":"D","f":2e7,"d":33.3},{"s":"D","f":3e7,"d":34.5},{"s":"D","f":4e7,"d":36.9},{"s":"D","f":4.5e7,"d":44},{"s":"D","f":4.7e7,"d":34},{"s":"D","f":5e7,"d":25.4},{"s":"D","f":5.5e7,"d":16.9},{"s":"D","f":6e7,"d":14.7},{"s":"D","f":7e7,"d":15.4},{"s":"D","f":8e7,"d":20.4},{"s":"D","f":8.5e7,"d":23},{"s":"D","f":9e7,"d":26.1},{"s":"D","f":9.5e7,"d":20},{"s":"D","f":1e8,"d":15.4},
{"s":"CL","f":1.38e5,"d":32.1},{"s":"DL","f":1.38e5,"d":14.4}],
"p16":[{"s":"C","f":1e4,"d":0.4},{"s":"C","f":2e4,"d":2.5},{"s":"C","f":3e4,"d":6},{"s":"C","f":5e4,"d":12.5},{"s":"C","f":7e4,"d":18},{"s":"C","f":1e5,"d":24.7},{"s":"C","f":2e5,"d":39},{"s":"C","f":3e5,"d":44.7},{"s":"C","f":5e5,"d":51.1},{"s":"C","f":7e5,"d":56.9},{"s":"C","f":1e6,"d":61.1},{"s":"C","f":1.5e6,"d":67},{"s":"C","f":2e6,"d":70.4},{"s":"C","f":3e6,"d":72.5},{"s":"C","f":4e6,"d":76},{"s":"C","f":5e6,"d":80},{"s":"C","f":5.57e6,"d":83.3},{"s":"C","f":7e6,"d":76},{"s":"C","f":1e7,"d":64},{"s":"C","f":2e7,"d":50.4},{"s":"C","f":3e7,"d":44},{"s":"C","f":4e7,"d":39.7},{"s":"C","f":5e7,"d":34},{"s":"C","f":6e7,"d":28.3},{"s":"C","f":6.5e7,"d":24},{"s":"C","f":7e7,"d":21.1},{"s":"C","f":7.5e7,"d":26},{"s":"C","f":7.8e7,"d":30.4},{"s":"C","f":8e7,"d":26},{"s":"C","f":8.5e7,"d":30},{"s":"C","f":9e7,"d":24},{"s":"C","f":9.5e7,"d":32.6},{"s":"C","f":1e8,"d":24.4},
{"s":"D","f":1e4,"d":0},{"s":"D","f":3e4,"d":0.3},{"s":"D","f":5e4,"d":2},{"s":"D","f":1e5,"d":7.1},{"s":"D","f":2e5,"d":10.4},{"s":"D","f":3e5,"d":11.4},{"s":"D","f":4e5,"d":10},{"s":"D","f":5e5,"d":8.3},{"s":"D","f":5.5e5,"d":9.5},{"s":"D","f":7e5,"d":20},{"s":"D","f":1e6,"d":34.7},{"s":"D","f":1.5e6,"d":52},{"s":"D","f":2e6,"d":64},{"s":"D","f":2.18e6,"d":71.4},{"s":"D","f":2.5e6,"d":66},{"s":"D","f":3e6,"d":60},{"s":"D","f":5e6,"d":55.9},{"s":"D","f":1e7,"d":53.6},{"s":"D","f":2e7,"d":51},{"s":"D","f":3e7,"d":50.4},{"s":"D","f":3.1e7,"d":56},{"s":"D","f":3.2e7,"d":48},{"s":"D","f":4e7,"d":47.6},{"s":"D","f":5e7,"d":42},{"s":"D","f":6e7,"d":37.6},{"s":"D","f":7e7,"d":35},{"s":"D","f":8e7,"d":33.7},{"s":"D","f":9e7,"d":31},{"s":"D","f":1e8,"d":32},
{"s":"CL","f":1.4e5,"d":43.3},{"s":"DL","f":1.4e5,"d":13.6}],
"p17":[{"s":"C","f":1e4,"d":1.4},{"s":"C","f":2e4,"d":3},{"s":"C","f":3e4,"d":5.5},{"s":"C","f":5e4,"d":8.5},{"s":"C","f":7e4,"d":12},{"s":"C","f":1e5,"d":14.7},{"s":"C","f":2e5,"d":23.3},{"s":"C","f":3e5,"d":28.5},{"s":"C","f":5e5,"d":34},{"s":"C","f":7e5,"d":37.5},{"s":"C","f":1e6,"d":40.4},{"s":"C","f":1.5e6,"d":41.5},{"s":"C","f":2e6,"d":42.1},{"s":"C","f":3e6,"d":43.5},{"s":"C","f":4e6,"d":45},{"s":"C","f":5e6,"d":47},{"s":"C","f":5.7e6,"d":49.7},{"s":"C","f":6e6,"d":44.3},{"s":"C","f":7e6,"d":45.5},{"s":"C","f":1e7,"d":47.6},{"s":"C","f":1.5e7,"d":50.5},{"s":"C","f":1.8e7,"d":52.6},{"s":"C","f":2e7,"d":52},{"s":"C","f":3e7,"d":44},{"s":"C","f":4e7,"d":36.9},{"s":"C","f":5e7,"d":31.5},{"s":"C","f":6e7,"d":28.3},{"s":"C","f":7e7,"d":24},{"s":"C","f":8e7,"d":21.9},{"s":"C","f":1e8,"d":19},
{"s":"D","f":1e4,"d":0},{"s":"D","f":3e4,"d":0.3},{"s":"D","f":5e4,"d":1.5},{"s":"D","f":1e5,"d":4.7},{"s":"D","f":2e5,"d":9.7},{"s":"D","f":5e5,"d":16.9},{"s":"D","f":1e6,"d":22.6},{"s":"D","f":1.5e6,"d":25},{"s":"D","f":2e6,"d":29},{"s":"D","f":3e6,"d":37.5},{"s":"D","f":4e6,"d":44},{"s":"D","f":5e6,"d":48.3},{"s":"D","f":7e6,"d":55},{"s":"D","f":1e7,"d":64},{"s":"D","f":1.5e7,"d":74},{"s":"D","f":2e7,"d":82},{"s":"D","f":2.4e7,"d":91.9},{"s":"D","f":2.7e7,"d":79.7},{"s":"D","f":3.2e7,"d":71.1},{"s":"D","f":4.4e7,"d":67.6},{"s":"D","f":4.9e7,"d":64.7},{"s":"D","f":5.3e7,"d":51.1},{"s":"D","f":5.8e7,"d":58.3},{"s":"D","f":6.6e7,"d":56.9},{"s":"D","f":7.7e7,"d":49.7},{"s":"D","f":8.8e7,"d":40.4},{"s":"D","f":1e8,"d":42.6},
{"s":"CL","f":1.36e5,"d":24.7},{"s":"DL","f":1.36e5,"d":12.3}],
"p18":[{"s":"C","f":1e4,"d":0.9},{"s":"C","f":2e4,"d":2.5},{"s":"C","f":5e4,"d":7},{"s":"C","f":1e5,"d":12.3},{"s":"C","f":2e5,"d":19.7},{"s":"C","f":3e5,"d":23.5},{"s":"C","f":5e5,"d":26.9},{"s":"C","f":7e5,"d":29},{"s":"C","f":1e6,"d":30.4},{"s":"C","f":1.5e6,"d":32},{"s":"C","f":2e6,"d":32.6},{"s":"C","f":3e6,"d":30.5},{"s":"C","f":5e6,"d":29.3},{"s":"C","f":7e6,"d":29.5},{"s":"C","f":1e7,"d":30},{"s":"C","f":1.5e7,"d":31.5},{"s":"C","f":1.8e7,"d":35.9},{"s":"C","f":1.9e7,"d":31.9},{"s":"C","f":2.5e7,"d":32.5},{"s":"C","f":3e7,"d":33.5},{"s":"C","f":4e7,"d":36.1},{"s":"C","f":5e7,"d":40},{"s":"C","f":6e7,"d":44},{"s":"C","f":6.5e7,"d":38},{"s":"C","f":7e7,"d":33},{"s":"C","f":8e7,"d":28.3},{"s":"C","f":1e8,"d":22.9},
{"s":"D","f":1e4,"d":0},{"s":"D","f":3e4,"d":0.3},{"s":"D","f":5e4,"d":1.5},{"s":"D","f":1e5,"d":4.3},{"s":"D","f":2e5,"d":8.5},{"s":"D","f":3e5,"d":11.5},{"s":"D","f":5e5,"d":15.5},{"s":"D","f":1e6,"d":24},{"s":"D","f":2e6,"d":31.9},{"s":"D","f":5e6,"d":43.3},{"s":"D","f":1e7,"d":51.9},{"s":"D","f":2e7,"d":64},{"s":"D","f":3e7,"d":69},{"s":"D","f":4e7,"d":76.9},{"s":"D","f":4.5e7,"d":84},{"s":"D","f":4.8e7,"d":96.9},{"s":"D","f":5.2e7,"d":53},{"s":"D","f":5.6e7,"d":66},{"s":"D","f":6.2e7,"d":82},{"s":"D","f":6.7e7,"d":96.5},{"s":"D","f":7.2e7,"d":85},{"s":"D","f":8e7,"d":70},{"s":"D","f":9e7,"d":60},{"s":"D","f":1e8,"d":51},
{"s":"CL","f":1.37e5,"d":23.3},{"s":"DL","f":1.4e6,"d":23}],
"p19":[{"s":"C","f":1e4,"d":1.9},{"s":"C","f":2e4,"d":3.5},{"s":"C","f":5e4,"d":8},{"s":"C","f":1e5,"d":15.9},{"s":"C","f":2e5,"d":23.7},{"s":"C","f":3e5,"d":27},{"s":"C","f":5e5,"d":30.1},{"s":"C","f":7e5,"d":31.8},{"s":"C","f":1e6,"d":33},{"s":"C","f":1.3e6,"d":32.5},{"s":"C","f":2e6,"d":30.1},{"s":"C","f":3e6,"d":27},{"s":"C","f":5e6,"d":23.7},{"s":"C","f":1e7,"d":17.3},{"s":"C","f":2e7,"d":10.9},{"s":"C","f":3e7,"d":7.5},{"s":"C","f":4e7,"d":3.3},{"s":"C","f":4.5e7,"d":2.3},{"s":"C","f":5e7,"d":2.3},{"s":"C","f":5.5e7,"d":2.5},{"s":"C","f":6e7,"d":5},{"s":"C","f":7e7,"d":4.5},{"s":"C","f":8e7,"d":14.3},{"s":"C","f":8.5e7,"d":20},{"s":"C","f":9e7,"d":26.4},{"s":"C","f":9.5e7,"d":20},{"s":"C","f":1e8,"d":15},
{"s":"D","f":1e4,"d":0},{"s":"D","f":3e4,"d":0.3},{"s":"D","f":1e5,"d":4.7},{"s":"D","f":2e5,"d":10.9},{"s":"D","f":5e5,"d":23},{"s":"D","f":1e6,"d":35},{"s":"D","f":1.2e6,"d":42},{"s":"D","f":1.45e6,"d":51.9},{"s":"D","f":1.7e6,"d":43},{"s":"D","f":2e6,"d":35.7},{"s":"D","f":3e6,"d":31.5},{"s":"D","f":5e6,"d":30},{"s":"D","f":1e7,"d":29.4},{"s":"D","f":1.5e7,"d":29},{"s":"D","f":2e7,"d":31.6},{"s":"D","f":3e7,"d":36},{"s":"D","f":4e7,"d":38.6},{"s":"D","f":4.6e7,"d":45},{"s":"D","f":4.8e7,"d":51.6},{"s":"D","f":5e7,"d":40},{"s":"D","f":5.2e7,"d":31.6},{"s":"D","f":5.5e7,"d":27},{"s":"D","f":6e7,"d":25.9},{"s":"D","f":6.5e7,"d":17.3},{"s":"D","f":7e7,"d":20},{"s":"D","f":7.5e7,"d":21.3},{"s":"D","f":8e7,"d":25},{"s":"D","f":8.5e7,"d":25.9},{"s":"D","f":9e7,"d":22},{"s":"D","f":9.5e7,"d":26},{"s":"D","f":1e8,"d":15.6},
{"s":"CL","f":1.38e5,"d":27.9},{"s":"DL","f":1.34e6,"d":57}],
"p20":[{"s":"C","f":1e4,"d":0.4},{"s":"C","f":2e4,"d":2.5},{"s":"C","f":3e4,"d":5},{"s":"C","f":5e4,"d":11},{"s":"C","f":7e4,"d":17},{"s":"C","f":1e5,"d":24.3},{"s":"C","f":2e5,"d":38.6},{"s":"C","f":3e5,"d":46},{"s":"C","f":5e5,"d":52.9},{"s":"C","f":7e5,"d":57},{"s":"C","f":1e6,"d":61.6},{"s":"C","f":1.5e6,"d":65.5},{"s":"C","f":2e6,"d":67.3},{"s":"C","f":2.5e6,"d":68.5},{"s":"C","f":3e6,"d":70},{"s":"C","f":4e6,"d":75},{"s":"C","f":5.2e6,"d":80.1},{"s":"C","f":7e6,"d":72},{"s":"C","f":1e7,"d":64.9},{"s":"C","f":2e7,"d":52.9},{"s":"C","f":3e7,"d":46},{"s":"C","f":4e7,"d":40},{"s":"C","f":5e7,"d":35.5},{"s":"C","f":6e7,"d":30.1},{"s":"C","f":7e7,"d":25},{"s":"C","f":7.2e7,"d":22.9},{"s":"C","f":7.5e7,"d":27},{"s":"C","f":7.8e7,"d":23},{"s":"C","f":8.2e7,"d":30.1},{"s":"C","f":8.5e7,"d":23},{"s":"C","f":9e7,"d":31.6},{"s":"C","f":1e8,"d":24.4},
{"s":"D","f":1e4,"d":0},{"s":"D","f":3e4,"d":0.3},{"s":"D","f":5e4,"d":2},{"s":"D","f":1e5,"d":6.9},{"s":"D","f":2e5,"d":10.4},{"s":"D","f":3e5,"d":11.4},{"s":"D","f":4e5,"d":10},{"s":"D","f":5e5,"d":7.6},{"s":"D","f":6e5,"d":15},{"s":"D","f":7e5,"d":22},{"s":"D","f":1e6,"d":33},{"s":"D","f":1.5e6,"d":48},{"s":"D","f":2e6,"d":62},{"s":"D","f":2.48e6,"d":71.4},{"s":"D","f":3e6,"d":63},{"s":"D","f":4e6,"d":59.5},{"s":"D","f":5e6,"d":59},{"s":"D","f":1e7,"d":55.4},{"s":"D","f":2e7,"d":53},{"s":"D","f":3.05e7,"d":51.7},{"s":"D","f":3.1e7,"d":58.3},{"s":"D","f":3.2e7,"d":46.9},{"s":"D","f":4e7,"d":48.1},{"s":"D","f":5e7,"d":44},{"s":"D","f":6e7,"d":37.3},{"s":"D","f":7e7,"d":33},{"s":"D","f":7.5e7,"d":30},{"s":"D","f":8e7,"d":32},{"s":"D","f":9e7,"d":28},{"s":"D","f":1e8,"d":30},
{"s":"CL","f":1.4e5,"d":43.6},{"s":"DL","f":1.3e6,"d":24.7}]
},
"concat":[
{"data":{"name":"p1"},"width":314,"height":233,"encoding":{"x":{"field":"f","type":"quantitative","scale":{"type":"log","domain":[10000,100000000],"nice":false},"axis":{"values":[10000,20000,30000,40000,50000,60000,70000,80000,90000,100000,200000,300000,400000,500000,600000,700000,800000,900000,1000000,2000000,3000000,4000000,5000000,6000000,7000000,8000000,9000000,10000000,20000000,30000000,40000000,50000000,60000000,70000000,80000000,90000000,100000000],"labelExpr":"datum.value==10000?'10k':datum.value==100000?'100k':datum.value==1000000?'1M':datum.value==10000000?'10M':datum.value==100000000?'Hz':''","gridWidth":{"condition":{"test":"datum.value==10000||datum.value==100000||datum.value==1000000||datum.value==10000000||datum.value==100000000","value":1.9},"value":0.9},"gridColor":{"condition":{"test":"datum.value==10000||datum.value==100000||datum.value==1000000||datum.value==10000000||datum.value==100000000","value":"#000"},"value":"#2a2a2a"},"title":"Standard type","titleX":1,"titleY":59}},"y":{"field":"d","type":"quantitative","scale":{"domain":[0,100],"nice":false},"axis":{"values":[0,10,20,30,40,50,60,70,80,90,100],"labelExpr":"datum.value==100?'dB':datum.label","title":"1 A:","titleX":-52,"titleY":292,"titleFontWeight":"bold"}}},
"layer":[{"transform":[{"filter":"datum.s=='C'"}],"mark":{"type":"line","strokeWidth":2.4},"encoding":{}},{"transform":[{"filter":"datum.s=='D'"}],"mark":{"type":"line","strokeWidth":1},"encoding":{}},{"transform":[{"filter":"datum.s=='CL'"}],"mark":{"type":"text","text":"CM","fontWeight":"bold"},"encoding":{}},{"transform":[{"filter":"datum.s=='DL'"}],"mark":{"type":"text","text":"DM"},"encoding":{}}]},
{"data":{"name":"p2"},"width":314,"height":233,"encoding":{"x":{"field":"f","type":"quantitative","scale":{"type":"log","domain":[10000,100000000],"nice":false},"axis":{"values":[10000,20000,30000,40000,50000,60000,70000,80000,90000,100000,200000,300000,400000,500000,600000,700000,800000,900000,1000000,2000000,3000000,4000000,5000000,6000000,7000000,8000000,9000000,10000000,20000000,30000000,40000000,50000000,60000000,70000000,80000000,90000000,100000000],"labelExpr":"datum.value==10000?'10k':datum.value==100000?'100k':datum.value==1000000?'1M':datum.value==10000000?'10M':datum.value==100000000?'Hz':''","gridWidth":{"condition":{"test":"datum.value==10000||datum.value==100000||datum.value==1000000||datum.value==10000000||datum.value==100000000","value":1.9},"value":0.9},"gridColor":{"condition":{"test":"datum.value==10000||datum.value==100000||datum.value==1000000||datum.value==10000000||datum.value==100000000","value":"#000"},"value":"#2a2a2a"},"title":"A type","titleX":-52,"titleY":59}},"y":{"field":"d","type":"quantitative","scale":{"domain":[0,100],"nice":false},"axis":{"values":[0,10,20,30,40,50,60,70,80,90,100],"labelExpr":"datum.value==100?'dB':datum.label","title":null}}},
"layer":[{"transform":[{"filter":"datum.s=='C'"}],"mark":{"type":"line","strokeWidth":2.4},"encoding":{}},{"transform":[{"filter":"datum.s=='D'"}],"mark":{"type":"line","strokeWidth":1},"encoding":{}},{"transform":[{"filter":"datum.s=='CL'"}],"mark":{"type":"text","text":"CM","fontWeight":"bold"},"encoding":{}},{"transform":[{"filter":"datum.s=='DL'"}],"mark":{"type":"text","text":"DM"},"encoding":{}}]},
{"data":{"name":"p3"},"width":314,"height":233,"encoding":{"x":{"field":"f","type":"quantitative","scale":{"type":"log","domain":[10000,100000000],"nice":false},"axis":{"values":[10000,20000,30000,40000,50000,60000,70000,80000,90000,100000,200000,300000,400000,500000,600000,700000,800000,900000,1000000,2000000,3000000,4000000,5000000,6000000,7000000,8000000,9000000,10000000,20000000,30000000,40000000,50000000,60000000,70000000,80000000,90000000,100000000],"labelExpr":"datum.value==10000?'10k':datum.value==100000?'100k':datum.value==1000000?'1M':datum.value==10000000?'10M':datum.value==100000000?'Hz':''","gridWidth":{"condition":{"test":"datum.value==10000||datum.value==100000||datum.value==1000000||datum.value==10000000||datum.value==100000000","value":1.9},"value":0.9},"gridColor":{"condition":{"test":"datum.value==10000||datum.value==100000||datum.value==1000000||datum.value==10000000||datum.value==100000000","value":"#000"},"value":"#2a2a2a"},"title":"B type","titleX":-52,"titleY":59}},"y":{"field":"d","type":"quantitative","scale":{"domain":[0,100],"nice":false},"axis":{"values":[0,10,20,30,40,50,60,70,80,90,100],"labelExpr":"datum.value==100?'dB':datum.label","title":null}}},
"layer":[{"transform":[{"filter":"datum.s=='C'"}],"mark":{"type":"line","strokeWidth":2.4},"encoding":{}},{"transform":[{"filter":"datum.s=='D'"}],"mark":{"type":"line","strokeWidth":1},"encoding":{}},{"transform":[{"filter":"datum.s=='CL'"}],"mark":{"type":"text","text":"CM","fontWeight":"bold"},"encoding":{}},{"transform":[{"filter":"datum.s=='DL'"}],"mark":{"type":"text","text":"DM"},"encoding":{}}]},
{"data":{"name":"p4"},"width":314,"height":233,"encoding":{"x":{"field":"f","type":"quantitative","scale":{"type":"log","domain":[10000,100000000],"nice":false},"axis":{"values":[10000,20000,30000,40000,50000,60000,70000,80000,90000,100000,200000,300000,400000,500000,600000,700000,800000,900000,1000000,2000000,3000000,4000000,5000000,6000000,7000000,8000000,9000000,10000000,20000000,30000000,40000000,50000000,60000000,70000000,80000000,90000000,100000000],"labelExpr":"datum.value==10000?'10k':datum.value==100000?'100k':datum.value==1000000?'1M':datum.value==10000000?'10M':datum.value==100000000?'Hz':''","gridWidth":{"condition":{"test":"datum.value==10000||datum.value==100000||datum.value==1000000||datum.value==10000000||datum.value==100000000","value":1.9},"value":0.9},"gridColor":{"condition":{"test":"datum.value==10000||datum.value==100000||datum.value==1000000||datum.value==10000000||datum.value==100000000","value":"#000"},"value":"#2a2a2a"},"title":"Enhanced performance","titleX":-52,"titleY":59}},"y":{"field":"d","type":"quantitative","scale":{"domain":[0,100],"nice":false},"axis":{"values":[0,10,20,30,40,50,60,70,80,90,100],"labelExpr":"datum.value==100?'dB':datum.label","title":null}}},
"layer":[{"transform":[{"filter":"datum.s=='C'"}],"mark":{"type":"line","strokeWidth":2.4},"encoding":{}},{"transform":[{"filter":"datum.s=='D'"}],"mark":{"type":"line","strokeWidth":1},"encoding":{}},{"transform":[{"filter":"datum.s=='CL'"}],"mark":{"type":"text","text":"CM","fontWeight":"bold"},"encoding":{}},{"transform":[{"filter":"datum.s=='DL'"}],"mark":{"type":"text","text":"DM"},"encoding":{}}]},
{"data":{"name":"p5"},"width":314,"height":233,"encoding":{"x":{"field":"f","type":"quantitative","scale":{"type":"log","domain":[10000,100000000],"nice":false},"axis":{"values":[10000,20000,30000,40000,50000,60000,70000,80000,90000,100000,200000,300000,400000,500000,600000,700000,800000,900000,1000000,2000000,3000000,4000000,5000000,6000000,7000000,8000000,9000000,10000000,20000000,30000000,40000000,50000000,60000000,70000000,80000000,90000000,100000000],"labelExpr":"datum.value==10000?'10k':datum.value==100000?'100k':datum.value==1000000?'1M':datum.value==10000000?'10M':datum.value==100000000?'Hz':''","gridWidth":{"condition":{"test":"datum.value==10000||datum.value==100000||datum.value==1000000||datum.value==10000000||datum.value==100000000","value":1.9},"value":0.9},"gridColor":{"condition":{"test":"datum.value==10000||datum.value==100000||datum.value==1000000||datum.value==10000000||datum.value==100000000","value":"#000"},"value":"#2a2a2a"},"title":"Standard type","titleX":1,"titleY":59}},"y":{"field":"d","type":"quantitative","scale":{"domain":[0,100],"nice":false},"axis":{"values":[0,10,20,30,40,50,60,70,80,90,100],"labelExpr":"datum.value==100?'dB':datum.label","title":"3 A:","titleX":-52,"titleY":292,"titleFontWeight":"bold"}}},
"layer":[{"transform":[{"filter":"datum.s=='C'"}],"mark":{"type":"line","strokeWidth":2.4},"encoding":{}},{"transform":[{"filter":"datum.s=='D'"}],"mark":{"type":"line","strokeWidth":1},"encoding":{}},{"transform":[{"filter":"datum.s=='CL'"}],"mark":{"type":"text","text":"CM","fontWeight":"bold"},"encoding":{}},{"transform":[{"filter":"datum.s=='DL'"}],"mark":{"type":"text","text":"DM"},"encoding":{}}]},
{"data":{"name":"p6"},"width":314,"height":233,"encoding":{"x":{"field":"f","type":"quantitative","scale":{"type":"log","domain":[10000,100000000],"nice":false},"axis":{"values":[10000,20000,30000,40000,50000,60000,70000,80000,90000,100000,200000,300000,400000,500000,600000,700000,800000,900000,1000000,2000000,3000000,4000000,5000000,6000000,7000000,8000000,9000000,10000000,20000000,30000000,40000000,50000000,60000000,70000000,80000000,90000000,100000000],"labelExpr":"datum.value==10000?'10k':datum.value==100000?'100k':datum.value==1000000?'1M':datum.value==10000000?'10M':datum.value==100000000?'Hz':''","gridWidth":{"condition":{"test":"datum.value==10000||datum.value==100000||datum.value==1000000||datum.value==10000000||datum.value==100000000","value":1.9},"value":0.9},"gridColor":{"condition":{"test":"datum.value==10000||datum.value==100000||datum.value==1000000||datum.value==10000000||datum.value==100000000","value":"#000"},"value":"#2a2a2a"},"title":"A type","titleX":-52,"titleY":59}},"y":{"field":"d","type":"quantitative","scale":{"domain":[0,100],"nice":false},"axis":{"values":[0,10,20,30,40,50,60,70,80,90,100],"labelExpr":"datum.value==100?'dB':datum.label","title":null}}},
"layer":[{"transform":[{"filter":"datum.s=='C'"}],"mark":{"type":"line","strokeWidth":2.4},"encoding":{}},{"transform":[{"filter":"datum.s=='D'"}],"mark":{"type":"line","strokeWidth":1},"encoding":{}},{"transform":[{"filter":"datum.s=='CL'"}],"mark":{"type":"text","text":"CM","fontWeight":"bold"},"encoding":{}},{"transform":[{"filter":"datum.s=='DL'"}],"mark":{"type":"text","text":"DM"},"encoding":{}}]},
{"data":{"name":"p7"},"width":314,"height":233,"encoding":{"x":{"field":"f","type":"quantitative","scale":{"type":"log","domain":[10000,100000000],"nice":false},"axis":{"values":[10000,20000,30000,40000,50000,60000,70000,80000,90000,100000,200000,300000,400000,500000,600000,700000,800000,900000,1000000,2000000,3000000,4000000,5000000,6000000,7000000,8000000,9000000,10000000,20000000,30000000,40000000,50000000,60000000,70000000,80000000,90000000,100000000],"labelExpr":"datum.value==10000?'10k':datum.value==100000?'100k':datum.value==1000000?'1M':datum.value==10000000?'10M':datum.value==100000000?'Hz':''","gridWidth":{"condition":{"test":"datum.value==10000||datum.value==100000||datum.value==1000000||datum.value==10000000||datum.value==100000000","value":1.9},"value":0.9},"gridColor":{"condition":{"test":"datum.value==10000||datum.value==100000||datum.value==1000000||datum.value==10000000||datum.value==100000000","value":"#000"},"value":"#2a2a2a"},"title":"B type","titleX":-52,"titleY":59}},"y":{"field":"d","type":"quantitative","scale":{"domain":[0,100],"nice":false},"axis":{"values":[0,10,20,30,40,50,60,70,80,90,100],"labelExpr":"datum.value==100?'dB':datum.label","title":null}}},
"layer":[{"transform":[{"filter":"datum.s=='C'"}],"mark":{"type":"line","strokeWidth":2.4},"encoding":{}},{"transform":[{"filter":"datum.s=='D'"}],"mark":{"type":"line","strokeWidth":1},"encoding":{}},{"transform":[{"filter":"datum.s=='CL'"}],"mark":{"type":"text","text":"CM","fontWeight":"bold"},"encoding":{}},{"transform":[{"filter":"datum.s=='DL'"}],"mark":{"type":"text","text":"DM"},"encoding":{}}]},
{"data":{"name":"p8"},"width":314,"height":233,"encoding":{"x":{"field":"f","type":"quantitative","scale":{"type":"log","domain":[10000,100000000],"nice":false},"axis":{"values":[10000,20000,30000,40000,50000,60000,70000,80000,90000,100000,200000,300000,400000,500000,600000,700000,800000,900000,1000000,2000000,3000000,4000000,5000000,6000000,7000000,8000000,9000000,10000000,20000000,30000000,40000000,50000000,60000000,70000000,80000000,90000000,100000000],"labelExpr":"datum.value==10000?'10k':datum.value==100000?'100k':datum.value==1000000?'1M':datum.value==10000000?'10M':datum.value==100000000?'Hz':''","gridWidth":{"condition":{"test":"datum.value==10000||datum.value==100000||datum.value==1000000||datum.value==10000000||datum.value==100000000","value":1.9},"value":0.9},"gridColor":{"condition":{"test":"datum.value==10000||datum.value==100000||datum.value==1000000||datum.value==10000000||datum.value==100000000","value":"#000"},"value":"#2a2a2a"},"title":"Enhanced performance","titleX":-52,"titleY":59}},"y":{"field":"d","type":"quantitative","scale":{"domain":[0,100],"nice":false},"axis":{"values":[0,10,20,30,40,50,60,70,80,90,100],"labelExpr":"datum.value==100?'dB':datum.label","title":null}}},
"layer":[{"transform":[{"filter":"datum.s=='C'"}],"mark":{"type":"line","strokeWidth":2.4},"encoding":{}},{"transform":[{"filter":"datum.s=='D'"}],"mark":{"type":"line","strokeWidth":1},"encoding":{}},{"transform":[{"filter":"datum.s=='CL'"}],"mark":{"type":"text","text":"CM","fontWeight":"bold"},"encoding":{}},{"transform":[{"filter":"datum.s=='DL'"}],"mark":{"type":"text","text":"DM"},"encoding":{}}]},
{"data":{"name":"p9"},"width":314,"height":233,"encoding":{"x":{"field":"f","type":"quantitative","scale":{"type":"log","domain":[10000,100000000],"nice":false},"axis":{"values":[10000,20000,30000,40000,50000,60000,70000,80000,90000,100000,200000,300000,400000,500000,600000,700000,800000,900000,1000000,2000000,3000000,4000000,5000000,6000000,7000000,8000000,9000000,10000000,20000000,30000000,40000000,50000000,60000000,70000000,80000000,90000000,100000000],"labelExpr":"datum.value==10000?'10k':datum.value==100000?'100k':datum.value==1000000?'1M':datum.value==10000000?'10M':datum.value==100000000?'Hz':''","gridWidth":{"condition":{"test":"datum.value==10000||datum.value==100000||datum.value==1000000||datum.value==10000000||datum.value==100000000","value":1.9},"value":0.9},"gridColor":{"condition":{"test":"datum.value==10000||datum.value==100000||datum.value==1000000||datum.value==10000000||datum.value==100000000","value":"#000"},"value":"#2a2a2a"},"title":"Standard type","titleX":1,"titleY":59}},"y":{"field":"d","type":"quantitative","scale":{"domain":[0,100],"nice":false},"axis":{"values":[0,10,20,30,40,50,60,70,80,90,100],"labelExpr":"datum.value==100?'dB':datum.label","title":"6 A:","titleX":-52,"titleY":292,"titleFontWeight":"bold"}}},
"layer":[{"transform":[{"filter":"datum.s=='C'"}],"mark":{"type":"line","strokeWidth":2.4},"encoding":{}},{"transform":[{"filter":"datum.s=='D'"}],"mark":{"type":"line","strokeWidth":1},"encoding":{}},{"transform":[{"filter":"datum.s=='CL'"}],"mark":{"type":"text","text":"CM","fontWeight":"bold"},"encoding":{}},{"transform":[{"filter":"datum.s=='DL'"}],"mark":{"type":"text","text":"DM"},"encoding":{}}]},
{"data":{"name":"p10"},"width":314,"height":233,"encoding":{"x":{"field":"f","type":"quantitative","scale":{"type":"log","domain":[10000,100000000],"nice":false},"axis":{"values":[10000,20000,30000,40000,50000,60000,70000,80000,90000,100000,200000,300000,400000,500000,600000,700000,800000,900000,1000000,2000000,3000000,4000000,5000000,6000000,7000000,8000000,9000000,10000000,20000000,30000000,40000000,50000000,60000000,70000000,80000000,90000000,100000000],"labelExpr":"datum.value==10000?'10k':datum.value==100000?'100k':datum.value==1000000?'1M':datum.value==10000000?'10M':datum.value==100000000?'Hz':''","gridWidth":{"condition":{"test":"datum.value==10000||datum.value==100000||datum.value==1000000||datum.value==10000000||datum.value==100000000","value":1.9},"value":0.9},"gridColor":{"condition":{"test":"datum.value==10000||datum.value==100000||datum.value==1000000||datum.value==10000000||datum.value==100000000","value":"#000"},"value":"#2a2a2a"},"title":"A type","titleX":-52,"titleY":59}},"y":{"field":"d","type":"quantitative","scale":{"domain":[0,100],"nice":false},"axis":{"values":[0,10,20,30,40,50,60,70,80,90,100],"labelExpr":"datum.value==100?'dB':datum.label","title":null}}},
"layer":[{"transform":[{"filter":"datum.s=='C'"}],"mark":{"type":"line","strokeWidth":2.4},"encoding":{}},{"transform":[{"filter":"datum.s=='D'"}],"mark":{"type":"line","strokeWidth":1},"encoding":{}},{"transform":[{"filter":"datum.s=='CL'"}],"mark":{"type":"text","text":"CM","fontWeight":"bold"},"encoding":{}},{"transform":[{"filter":"datum.s=='DL'"}],"mark":{"type":"text","text":"DM"},"encoding":{}}]},
{"data":{"name":"p11"},"width":314,"height":233,"encoding":{"x":{"field":"f","type":"quantitative","scale":{"type":"log","domain":[10000,100000000],"nice":false},"axis":{"values":[10000,20000,30000,40000,50000,60000,70000,80000,90000,100000,200000,300000,400000,500000,600000,700000,800000,900000,1000000,2000000,3000000,4000000,5000000,6000000,7000000,8000000,9000000,10000000,20000000,30000000,40000000,50000000,60000000,70000000,80000000,90000000,100000000],"labelExpr":"datum.value==10000?'10k':datum.value==100000?'100k':datum.value==1000000?'1M':datum.value==10000000?'10M':datum.value==100000000?'Hz':''","gridWidth":{"condition":{"test":"datum.value==10000||datum.value==100000||datum.value==1000000||datum.value==10000000||datum.value==100000000","value":1.9},"value":0.9},"gridColor":{"condition":{"test":"datum.value==10000||datum.value==100000||datum.value==1000000||datum.value==10000000||datum.value==100000000","value":"#000"},"value":"#2a2a2a"},"title":"B type","titleX":-52,"titleY":59}},"y":{"field":"d","type":"quantitative","scale":{"domain":[0,100],"nice":false},"axis":{"values":[0,10,20,30,40,50,60,70,80,90,100],"labelExpr":"datum.value==100?'dB':datum.label","title":null}}},
"layer":[{"transform":[{"filter":"datum.s=='C'"}],"mark":{"type":"line","strokeWidth":2.4},"encoding":{}},{"transform":[{"filter":"datum.s=='D'"}],"mark":{"type":"line","strokeWidth":1},"encoding":{}},{"transform":[{"filter":"datum.s=='CL'"}],"mark":{"type":"text","text":"CM","fontWeight":"bold"},"encoding":{}},{"transform":[{"filter":"datum.s=='DL'"}],"mark":{"type":"text","text":"DM"},"encoding":{}}]},
{"data":{"name":"p12"},"width":314,"height":233,"encoding":{"x":{"field":"f","type":"quantitative","scale":{"type":"log","domain":[10000,100000000],"nice":false},"axis":{"values":[10000,20000,30000,40000,50000,60000,70000,80000,90000,100000,200000,300000,400000,500000,600000,700000,800000,900000,1000000,2000000,3000000,4000000,5000000,6000000,7000000,8000000,9000000,10000000,20000000,30000000,40000000,50000000,60000000,70000000,80000000,90000000,100000000],"labelExpr":"datum.value==10000?'10k':datum.value==100000?'100k':datum.value==1000000?'1M':datum.value==10000000?'10M':datum.value==100000000?'Hz':''","gridWidth":{"condition":{"test":"datum.value==10000||datum.value==100000||datum.value==1000000||datum.value==10000000||datum.value==100000000","value":1.9},"value":0.9},"gridColor":{"condition":{"test":"datum.value==10000||datum.value==100000||datum.value==1000000||datum.value==10000000||datum.value==100000000","value":"#000"},"value":"#2a2a2a"},"title":"Enhanced performance","titleX":-52,"titleY":59}},"y":{"field":"d","type":"quantitative","scale":{"domain":[0,100],"nice":false},"axis":{"values":[0,10,20,30,40,50,60,70,80,90,100],"labelExpr":"datum.value==100?'dB':datum.label","title":null}}},
"layer":[{"transform":[{"filter":"datum.s=='C'"}],"mark":{"type":"line","strokeWidth":2.4},"encoding":{}},{"transform":[{"filter":"datum.s=='D'"}],"mark":{"type":"line","strokeWidth":1},"encoding":{}},{"transform":[{"filter":"datum.s=='CL'"}],"mark":{"type":"text","text":"CM","fontWeight":"bold"},"encoding":{}},{"transform":[{"filter":"datum.s=='DL'"}],"mark":{"type":"text","text":"DM"},"encoding":{}}]},
{"data":{"name":"p13"},"width":314,"height":233,"encoding":{"x":{"field":"f","type":"quantitative","scale":{"type":"log","domain":[10000,100000000],"nice":false},"axis":{"values":[10000,20000,30000,40000,50000,60000,70000,80000,90000,100000,200000,300000,400000,500000,600000,700000,800000,900000,1000000,2000000,3000000,4000000,5000000,6000000,7000000,8000000,9000000,10000000,20000000,30000000,40000000,50000000,60000000,70000000,80000000,90000000,100000000],"labelExpr":"datum.value==10000?'10k':datum.value==100000?'100k':datum.value==1000000?'1M':datum.value==10000000?'10M':datum.value==100000000?'Hz':''","gridWidth":{"condition":{"test":"datum.value==10000||datum.value==100000||datum.value==1000000||datum.value==10000000||datum.value==100000000","value":1.9},"value":0.9},"gridColor":{"condition":{"test":"datum.value==10000||datum.value==100000||datum.value==1000000||datum.value==10000000||datum.value==100000000","value":"#000"},"value":"#2a2a2a"},"title":"Standard type","titleX":16,"titleY":59}},"y":{"field":"d","type":"quantitative","scale":{"domain":[0,100],"nice":false},"axis":{"values":[0,10,20,30,40,50,60,70,80,90,100],"labelExpr":"datum.value==100?'dB':datum.label","title":"10 A:","titleX":-52,"titleY":292,"titleFontWeight":"bold"}}},
"layer":[{"transform":[{"filter":"datum.s=='C'"}],"mark":{"type":"line","strokeWidth":2.4},"encoding":{}},{"transform":[{"filter":"datum.s=='D'"}],"mark":{"type":"line","strokeWidth":1},"encoding":{}},{"transform":[{"filter":"datum.s=='CL'"}],"mark":{"type":"text","text":"CM","fontWeight":"bold"},"encoding":{}},{"transform":[{"filter":"datum.s=='DL'"}],"mark":{"type":"text","text":"DM"},"encoding":{}}]},
{"data":{"name":"p14"},"width":314,"height":233,"encoding":{"x":{"field":"f","type":"quantitative","scale":{"type":"log","domain":[10000,100000000],"nice":false},"axis":{"values":[10000,20000,30000,40000,50000,60000,70000,80000,90000,100000,200000,300000,400000,500000,600000,700000,800000,900000,1000000,2000000,3000000,4000000,5000000,6000000,7000000,8000000,9000000,10000000,20000000,30000000,40000000,50000000,60000000,70000000,80000000,90000000,100000000],"labelExpr":"datum.value==10000?'10k':datum.value==100000?'100k':datum.value==1000000?'1M':datum.value==10000000?'10M':datum.value==100000000?'Hz':''","gridWidth":{"condition":{"test":"datum.value==10000||datum.value==100000||datum.value==1000000||datum.value==10000000||datum.value==100000000","value":1.9},"value":0.9},"gridColor":{"condition":{"test":"datum.value==10000||datum.value==100000||datum.value==1000000||datum.value==10000000||datum.value==100000000","value":"#000"},"value":"#2a2a2a"},"title":"A type","titleX":-52,"titleY":59}},"y":{"field":"d","type":"quantitative","scale":{"domain":[0,100],"nice":false},"axis":{"values":[0,10,20,30,40,50,60,70,80,90,100],"labelExpr":"datum.value==100?'dB':datum.label","title":null}}},
"layer":[{"transform":[{"filter":"datum.s=='C'"}],"mark":{"type":"line","strokeWidth":2.4},"encoding":{}},{"transform":[{"filter":"datum.s=='D'"}],"mark":{"type":"line","strokeWidth":1},"encoding":{}},{"transform":[{"filter":"datum.s=='CL'"}],"mark":{"type":"text","text":"CM","fontWeight":"bold"},"encoding":{}},{"transform":[{"filter":"datum.s=='DL'"}],"mark":{"type":"text","text":"DM"},"encoding":{}}]},
{"data":{"name":"p15"},"width":314,"height":233,"encoding":{"x":{"field":"f","type":"quantitative","scale":{"type":"log","domain":[10000,100000000],"nice":false},"axis":{"values":[10000,20000,30000,40000,50000,60000,70000,80000,90000,100000,200000,300000,400000,500000,600000,700000,800000,900000,1000000,2000000,3000000,4000000,5000000,6000000,7000000,8000000,9000000,10000000,20000000,30000000,40000000,50000000,60000000,70000000,80000000,90000000,100000000],"labelExpr":"datum.value==10000?'10k':datum.value==100000?'100k':datum.value==1000000?'1M':datum.value==10000000?'10M':datum.value==100000000?'Hz':''","gridWidth":{"condition":{"test":"datum.value==10000||datum.value==100000||datum.value==1000000||datum.value==10000000||datum.value==100000000","value":1.9},"value":0.9},"gridColor":{"condition":{"test":"datum.value==10000||datum.value==100000||datum.value==1000000||datum.value==10000000||datum.value==100000000","value":"#000"},"value":"#2a2a2a"},"title":"B type","titleX":-52,"titleY":59}},"y":{"field":"d","type":"quantitative","scale":{"domain":[0,100],"nice":false},"axis":{"values":[0,10,20,30,40,50,60,70,80,90,100],"labelExpr":"datum.value==100?'dB':datum.label","title":null}}},
"layer":[{"transform":[{"filter":"datum.s=='C'"}],"mark":{"type":"line","strokeWidth":2.4},"encoding":{}},{"transform":[{"filter":"datum.s=='D'"}],"mark":{"type":"line","strokeWidth":1},"encoding":{}},{"transform":[{"filter":"datum.s=='CL'"}],"mark":{"type":"text","text":"CM","fontWeight":"bold"},"encoding":{}},{"transform":[{"filter":"datum.s=='DL'"}],"mark":{"type":"text","text":"DM"},"encoding":{}}]},
{"data":{"name":"p16"},"width":314,"height":233,"encoding":{"x":{"field":"f","type":"quantitative","scale":{"type":"log","domain":[10000,100000000],"nice":false},"axis":{"values":[10000,20000,30000,40000,50000,60000,70000,80000,90000,100000,200000,300000,400000,500000,600000,700000,800000,900000,1000000,2000000,3000000,4000000,5000000,6000000,7000000,8000000,9000000,10000000,20000000,30000000,40000000,50000000,60000000,70000000,80000000,90000000,100000000],"labelExpr":"datum.value==10000?'10k':datum.value==100000?'100k':datum.value==1000000?'1M':datum.value==10000000?'10M':datum.value==100000000?'Hz':''","gridWidth":{"condition":{"test":"datum.value==10000||datum.value==100000||datum.value==1000000||datum.value==10000000||datum.value==100000000","value":1.9},"value":0.9},"gridColor":{"condition":{"test":"datum.value==10000||datum.value==100000||datum.value==1000000||datum.value==10000000||datum.value==100000000","value":"#000"},"value":"#2a2a2a"},"title":"Enhanced performance","titleX":-52,"titleY":59}},"y":{"field":"d","type":"quantitative","scale":{"domain":[0,100],"nice":false},"axis":{"values":[0,10,20,30,40,50,60,70,80,90,100],"labelExpr":"datum.value==100?'dB':datum.label","title":null}}},
"layer":[{"transform":[{"filter":"datum.s=='C'"}],"mark":{"type":"line","strokeWidth":2.4},"encoding":{}},{"transform":[{"filter":"datum.s=='D'"}],"mark":{"type":"line","strokeWidth":1},"encoding":{}},{"transform":[{"filter":"datum.s=='CL'"}],"mark":{"type":"text","text":"CM","fontWeight":"bold"},"encoding":{}},{"transform":[{"filter":"datum.s=='DL'"}],"mark":{"type":"text","text":"DM"},"encoding":{}}]},
{"data":{"name":"p17"},"width":314,"height":233,"encoding":{"x":{"field":"f","type":"quantitative","scale":{"type":"log","domain":[10000,100000000],"nice":false},"axis":{"values":[10000,20000,30000,40000,50000,60000,70000,80000,90000,100000,200000,300000,400000,500000,600000,700000,800000,900000,1000000,2000000,3000000,4000000,5000000,6000000,7000000,8000000,9000000,10000000,20000000,30000000,40000000,50000000,60000000,70000000,80000000,90000000,100000000],"labelExpr":"datum.value==10000?'10k':datum.value==100000?'100k':datum.value==1000000?'1M':datum.value==10000000?'10M':datum.value==100000000?'Hz':''","gridWidth":{"condition":{"test":"datum.value==10000||datum.value==100000||datum.value==1000000||datum.value==10000000||datum.value==100000000","value":1.9},"value":0.9},"gridColor":{"condition":{"test":"datum.value==10000||datum.value==100000||datum.value==1000000||datum.value==10000000||datum.value==100000000","value":"#000"},"value":"#2a2a2a"},"title":"Standard type","titleX":16,"titleY":59}},"y":{"field":"d","type":"quantitative","scale":{"domain":[0,100],"nice":false},"axis":{"values":[0,10,20,30,40,50,60,70,80,90,100],"labelExpr":"datum.value==100?'dB':datum.label","title":"12 A:","titleX":-52,"titleY":292,"titleFontWeight":"bold"}}},
"layer":[{"transform":[{"filter":"datum.s=='C'"}],"mark":{"type":"line","strokeWidth":2.4},"encoding":{}},{"transform":[{"filter":"datum.s=='D'"}],"mark":{"type":"line","strokeWidth":1},"encoding":{}},{"transform":[{"filter":"datum.s=='CL'"}],"mark":{"type":"text","text":"CM","fontWeight":"bold"},"encoding":{}},{"transform":[{"filter":"datum.s=='DL'"}],"mark":{"type":"text","text":"DM"},"encoding":{}}]},
{"data":{"name":"p18"},"width":314,"height":233,"encoding":{"x":{"field":"f","type":"quantitative","scale":{"type":"log","domain":[10000,100000000],"nice":false},"axis":{"values":[10000,20000,30000,40000,50000,60000,70000,80000,90000,100000,200000,300000,400000,500000,600000,700000,800000,900000,1000000,2000000,3000000,4000000,5000000,6000000,7000000,8000000,9000000,10000000,20000000,30000000,40000000,50000000,60000000,70000000,80000000,90000000,100000000],"labelExpr":"datum.value==10000?'10k':datum.value==100000?'100k':datum.value==1000000?'1M':datum.value==10000000?'10M':datum.value==100000000?'Hz':''","gridWidth":{"condition":{"test":"datum.value==10000||datum.value==100000||datum.value==1000000||datum.value==10000000||datum.value==100000000","value":1.9},"value":0.9},"gridColor":{"condition":{"test":"datum.value==10000||datum.value==100000||datum.value==1000000||datum.value==10000000||datum.value==100000000","value":"#000"},"value":"#2a2a2a"},"title":"A type","titleX":-52,"titleY":59}},"y":{"field":"d","type":"quantitative","scale":{"domain":[0,100],"nice":false},"axis":{"values":[0,10,20,30,40,50,60,70,80,90,100],"labelExpr":"datum.value==100?'dB':datum.label","title":null}}},
"layer":[{"transform":[{"filter":"datum.s=='C'"}],"mark":{"type":"line","strokeWidth":2.4},"encoding":{}},{"transform":[{"filter":"datum.s=='D'"}],"mark":{"type":"line","strokeWidth":1},"encoding":{}},{"transform":[{"filter":"datum.s=='CL'"}],"mark":{"type":"text","text":"CM","fontWeight":"bold"},"encoding":{}},{"transform":[{"filter":"datum.s=='DL'"}],"mark":{"type":"text","text":"DM"},"encoding":{}}]},
{"data":{"name":"p19"},"width":314,"height":233,"encoding":{"x":{"field":"f","type":"quantitative","scale":{"type":"log","domain":[10000,100000000],"nice":false},"axis":{"values":[10000,20000,30000,40000,50000,60000,70000,80000,90000,100000,200000,300000,400000,500000,600000,700000,800000,900000,1000000,2000000,3000000,4000000,5000000,6000000,7000000,8000000,9000000,10000000,20000000,30000000,40000000,50000000,60000000,70000000,80000000,90000000,100000000],"labelExpr":"datum.value==10000?'10k':datum.value==100000?'100k':datum.value==1000000?'1M':datum.value==10000000?'10M':datum.value==100000000?'Hz':''","gridWidth":{"condition":{"test":"datum.value==10000||datum.value==100000||datum.value==1000000||datum.value==10000000||datum.value==100000000","value":1.9},"value":0.9},"gridColor":{"condition":{"test":"datum.value==10000||datum.value==100000||datum.value==1000000||datum.value==10000000||datum.value==100000000","value":"#000"},"value":"#2a2a2a"},"title":"B type","titleX":-52,"titleY":59}},"y":{"field":"d","type":"quantitative","scale":{"domain":[0,100],"nice":false},"axis":{"values":[0,10,20,30,40,50,60,70,80,90,100],"labelExpr":"datum.value==100?'dB':datum.label","title":null}}},
"layer":[{"transform":[{"filter":"datum.s=='C'"}],"mark":{"type":"line","strokeWidth":2.4},"encoding":{}},{"transform":[{"filter":"datum.s=='D'"}],"mark":{"type":"line","strokeWidth":1},"encoding":{}},{"transform":[{"filter":"datum.s=='CL'"}],"mark":{"type":"text","text":"CM","fontWeight":"bold"},"encoding":{}},{"transform":[{"filter":"datum.s=='DL'"}],"mark":{"type":"text","text":"DM"},"encoding":{}}]},
{"data":{"name":"p20"},"width":314,"height":233,"encoding":{"x":{"field":"f","type":"quantitative","scale":{"type":"log","domain":[10000,100000000],"nice":false},"axis":{"values":[10000,20000,30000,40000,50000,60000,70000,80000,90000,100000,200000,300000,400000,500000,600000,700000,800000,900000,1000000,2000000,3000000,4000000,5000000,6000000,7000000,8000000,9000000,10000000,20000000,30000000,40000000,50000000,60000000,70000000,80000000,90000000,100000000],"labelExpr":"datum.value==10000?'10k':datum.value==100000?'100k':datum.value==1000000?'1M':datum.value==10000000?'10M':datum.value==100000000?'Hz':''","gridWidth":{"condition":{"test":"datum.value==10000||datum.value==100000||datum.value==1000000||datum.value==10000000||datum.value==100000000","value":1.9},"value":0.9},"gridColor":{"condition":{"test":"datum.value==10000||datum.value==100000||datum.value==1000000||datum.value==10000000||datum.value==100000000","value":"#000"},"value":"#2a2a2a"},"title":"Enhanced performance","titleX":-52,"titleY":59}},"y":{"field":"d","type":"quantitative","scale":{"domain":[0,100],"nice":false},"axis":{"values":[0,10,20,30,40,50,60,70,80,90,100],"labelExpr":"datum.value==100?'dB':datum.label","title":null}}},
"layer":[{"transform":[{"filter":"datum.s=='C'"}],"mark":{"type":"line","strokeWidth":2.4},"encoding":{}},{"transform":[{"filter":"datum.s=='D'"}],"mark":{"type":"line","strokeWidth":1},"encoding":{}},{"transform":[{"filter":"datum.s=='CL'"}],"mark":{"type":"text","text":"CM","fontWeight":"bold"},"encoding":{}},{"transform":[{"filter":"datum.s=='DL'"}],"mark":{"type":"text","text":"DM"},"encoding":{}}]}
]
}
